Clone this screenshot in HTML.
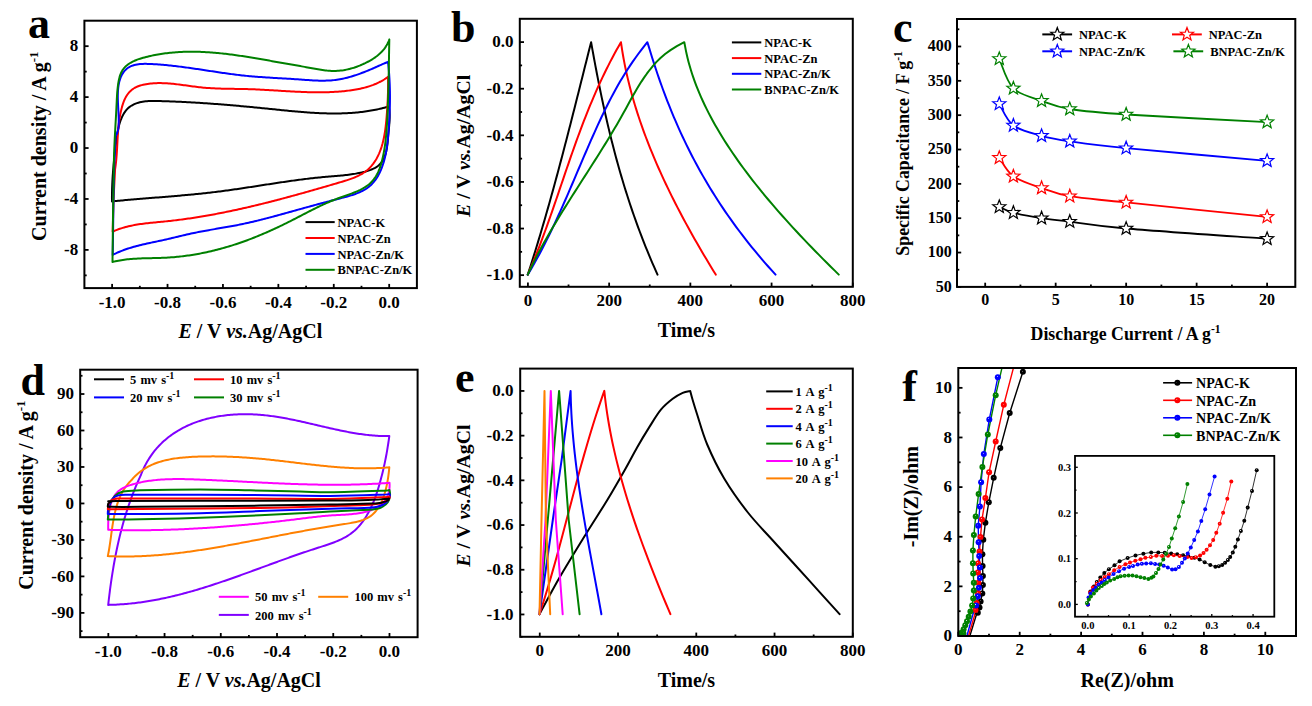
<!DOCTYPE html>
<html><head><meta charset="utf-8"><style>
html,body{margin:0;padding:0;background:#fff;width:1312px;height:706px;overflow:hidden}
svg{display:block}
text{font-family:'Liberation Serif',serif;font-weight:bold}
</style></head><body>
<svg width="1312" height="706" viewBox="0 0 1312 706">
<rect width="1312" height="706" fill="#fff"/>
<line x1="112.11" y1="288.1" x2="112.11" y2="283.9" stroke="#000" stroke-width="1.8"/>
<line x1="167.53" y1="288.1" x2="167.53" y2="283.9" stroke="#000" stroke-width="1.8"/>
<line x1="222.94" y1="288.1" x2="222.94" y2="283.9" stroke="#000" stroke-width="1.8"/>
<line x1="278.36" y1="288.1" x2="278.36" y2="283.9" stroke="#000" stroke-width="1.8"/>
<line x1="333.77" y1="288.1" x2="333.77" y2="283.9" stroke="#000" stroke-width="1.8"/>
<line x1="389.19" y1="288.1" x2="389.19" y2="283.9" stroke="#000" stroke-width="1.8"/>
<line x1="139.82" y1="288.1" x2="139.82" y2="285.8" stroke="#000" stroke-width="1.8"/>
<line x1="195.23" y1="288.1" x2="195.23" y2="285.8" stroke="#000" stroke-width="1.8"/>
<line x1="250.65" y1="288.1" x2="250.65" y2="285.8" stroke="#000" stroke-width="1.8"/>
<line x1="306.07" y1="288.1" x2="306.07" y2="285.8" stroke="#000" stroke-width="1.8"/>
<line x1="361.48" y1="288.1" x2="361.48" y2="285.8" stroke="#000" stroke-width="1.8"/>
<text x="112.11" y="307.6" font-size="17" text-anchor="middle" >-1.0</text>
<text x="167.53" y="307.6" font-size="17" text-anchor="middle" >-0.8</text>
<text x="222.94" y="307.6" font-size="17" text-anchor="middle" >-0.6</text>
<text x="278.36" y="307.6" font-size="17" text-anchor="middle" >-0.4</text>
<text x="333.77" y="307.6" font-size="17" text-anchor="middle" >-0.2</text>
<text x="389.19" y="307.6" font-size="17" text-anchor="middle" >0.0</text>
<line x1="84.4" y1="46.17" x2="88.6" y2="46.17" stroke="#000" stroke-width="1.8"/>
<line x1="84.4" y1="97.1" x2="88.6" y2="97.1" stroke="#000" stroke-width="1.8"/>
<line x1="84.4" y1="148.03" x2="88.6" y2="148.03" stroke="#000" stroke-width="1.8"/>
<line x1="84.4" y1="198.97" x2="88.6" y2="198.97" stroke="#000" stroke-width="1.8"/>
<line x1="84.4" y1="249.9" x2="88.6" y2="249.9" stroke="#000" stroke-width="1.8"/>
<line x1="84.4" y1="71.63" x2="86.7" y2="71.63" stroke="#000" stroke-width="1.8"/>
<line x1="84.4" y1="122.57" x2="86.7" y2="122.57" stroke="#000" stroke-width="1.8"/>
<line x1="84.4" y1="173.5" x2="86.7" y2="173.5" stroke="#000" stroke-width="1.8"/>
<line x1="84.4" y1="224.43" x2="86.7" y2="224.43" stroke="#000" stroke-width="1.8"/>
<line x1="84.4" y1="275.37" x2="86.7" y2="275.37" stroke="#000" stroke-width="1.8"/>
<text x="78.2" y="51.47" font-size="17" text-anchor="end" >8</text>
<text x="78.2" y="102.4" font-size="17" text-anchor="end" >4</text>
<text x="78.2" y="153.33" font-size="17" text-anchor="end" >0</text>
<text x="78.2" y="204.27" font-size="17" text-anchor="end" >-4</text>
<text x="78.2" y="255.2" font-size="17" text-anchor="end" >-8</text>
<path d="M117,135.9 L117.2,134.52 L117.43,133.09 L117.69,131.63 L117.97,130.14 L118.29,128.63 L118.63,127.11 L119.02,125.58 L119.44,124.05 L119.9,122.52 L120.41,121.01 L120.96,119.52 L121.55,118.05 L122.2,116.62 L122.89,115.22 L123.64,113.88 L124.44,112.58 L125.3,111.35 L126.22,110.18 L127.21,109.08 L128.25,108.07 L129.36,107.14 L130.53,106.28 L131.74,105.51 L133,104.81 L134.3,104.18 L135.62,103.62 L136.98,103.13 L138.36,102.7 L139.76,102.33 L141.19,102.01 L142.64,101.75 L144.1,101.53 L145.59,101.35 L147.08,101.22 L148.59,101.12 L150.12,101.05 L151.65,101.01 L153.19,100.99 L154.73,100.99 L156.29,101.01 L157.84,101.04 L159.39,101.07 L160.94,101.12 L162.49,101.16 L164.04,101.21 L165.59,101.25 L167.13,101.3 L168.68,101.36 L170.22,101.41 L171.76,101.47 L173.3,101.53 L174.83,101.59 L176.37,101.65 L177.9,101.72 L179.43,101.79 L180.96,101.86 L182.49,101.93 L184.02,102.01 L185.54,102.08 L187.07,102.16 L188.59,102.24 L190.12,102.33 L191.64,102.41 L193.16,102.5 L194.67,102.58 L196.19,102.67 L197.71,102.77 L199.22,102.86 L200.74,102.96 L202.25,103.05 L203.76,103.15 L205.28,103.25 L206.79,103.36 L208.3,103.46 L209.8,103.57 L211.31,103.67 L212.82,103.78 L214.33,103.89 L215.83,104.01 L217.34,104.12 L218.84,104.24 L220.35,104.35 L221.85,104.47 L223.35,104.59 L224.86,104.71 L226.36,104.84 L227.86,104.96 L229.36,105.08 L230.86,105.21 L232.37,105.34 L233.87,105.47 L235.37,105.6 L236.87,105.73 L238.37,105.86 L239.87,106 L241.37,106.13 L242.87,106.27 L244.37,106.41 L245.87,106.55 L247.37,106.69 L248.87,106.83 L250.37,106.97 L251.87,107.11 L253.37,107.26 L254.87,107.4 L256.38,107.55 L257.88,107.69 L259.38,107.84 L260.88,107.99 L262.39,108.14 L263.89,108.29 L265.39,108.44 L266.9,108.59 L268.4,108.74 L269.91,108.9 L271.42,109.05 L272.92,109.2 L274.43,109.36 L275.94,109.51 L277.45,109.67 L278.96,109.82 L280.47,109.98 L281.98,110.13 L283.49,110.28 L285,110.43 L286.51,110.58 L288.03,110.73 L289.54,110.88 L291.05,111.02 L292.56,111.17 L294.08,111.31 L295.59,111.44 L297.11,111.58 L298.62,111.71 L300.13,111.84 L301.65,111.97 L303.16,112.09 L304.68,112.21 L306.19,112.32 L307.71,112.43 L309.22,112.54 L310.74,112.64 L312.25,112.74 L313.77,112.83 L315.28,112.91 L316.8,113 L318.31,113.07 L319.83,113.14 L321.34,113.2 L322.86,113.26 L324.37,113.31 L325.89,113.36 L327.4,113.39 L328.91,113.42 L330.42,113.45 L331.94,113.46 L333.45,113.47 L334.96,113.47 L336.47,113.46 L337.98,113.45 L339.49,113.42 L341,113.39 L342.51,113.35 L344.02,113.29 L345.53,113.23 L347.04,113.16 L348.54,113.08 L350.05,112.99 L351.56,112.89 L353.06,112.78 L354.57,112.66 L356.07,112.53 L357.57,112.39 L359.07,112.23 L360.57,112.07 L362.07,111.89 L363.57,111.7 L365.07,111.5 L366.57,111.29 L368.07,111.06 L369.56,110.83 L371.06,110.58 L372.55,110.31 L374.04,110.03 L375.53,109.74 L377.02,109.44 L378.51,109.12 L380,108.79 L381.49,108.44 L382.97,108.08 L384.46,107.71 L385.94,107.32 L387.42,106.91 L388.9,106.49 M388.9,106.5 L389.13,108.05 L389.32,109.57 L389.46,111.08 L389.56,112.57 L389.62,114.04 L389.65,115.51 L389.65,116.96 L389.62,118.41 L389.57,119.85 L389.49,121.3 L389.4,122.74 L389.28,124.19 L389.16,125.64 L389.03,127.1 L388.88,128.57 L388.74,130.06 L388.59,131.56 L388.44,133.08 L388.3,134.61 L388.17,136.17 L388.03,137.75 L387.89,139.34 L387.75,140.94 L387.59,142.54 L387.41,144.14 L387.21,145.73 L386.98,147.32 L386.72,148.88 L386.42,150.43 L386.08,151.96 L385.69,153.45 L385.25,154.91 L384.75,156.33 L384.19,157.71 L383.56,159.04 L382.86,160.32 L382.09,161.54 L381.24,162.69 L380.32,163.77 L379.32,164.77 L378.25,165.69 L377.12,166.54 L375.92,167.32 L374.67,168.04 L373.37,168.7 L372.03,169.3 L370.66,169.86 L369.25,170.37 L367.82,170.84 L366.37,171.27 L364.9,171.68 L363.43,172.05 L361.96,172.4 L360.48,172.74 L359,173.05 L357.51,173.34 L356.03,173.61 L354.54,173.87 L353.05,174.1 L351.55,174.33 L350.06,174.54 L348.56,174.73 L347.06,174.92 L345.56,175.09 L344.06,175.25 L342.56,175.41 L341.06,175.55 L339.55,175.69 L338.05,175.83 L336.54,175.96 L335.04,176.09 L333.53,176.21 L332.02,176.33 L330.52,176.46 L329.01,176.58 L327.51,176.71 L326,176.84 L324.5,176.97 L322.99,177.11 L321.49,177.25 L319.99,177.39 L318.49,177.55 L316.99,177.7 L315.49,177.86 L313.99,178.02 L312.49,178.19 L310.99,178.36 L309.49,178.53 L307.99,178.7 L306.5,178.88 L305,179.07 L303.51,179.25 L302.01,179.44 L300.52,179.63 L299.02,179.83 L297.53,180.03 L296.03,180.23 L294.54,180.43 L293.05,180.63 L291.56,180.84 L290.06,181.05 L288.57,181.26 L287.08,181.47 L285.59,181.69 L284.1,181.91 L282.61,182.12 L281.12,182.34 L279.63,182.57 L278.14,182.79 L276.65,183.01 L275.16,183.24 L273.67,183.46 L272.19,183.69 L270.7,183.92 L269.21,184.15 L267.72,184.37 L266.23,184.6 L264.74,184.83 L263.25,185.06 L261.77,185.29 L260.28,185.52 L258.79,185.75 L257.3,185.99 L255.81,186.22 L254.33,186.44 L252.84,186.67 L251.35,186.9 L249.86,187.13 L248.37,187.36 L246.88,187.58 L245.4,187.81 L243.91,188.03 L242.42,188.26 L240.93,188.48 L239.44,188.7 L237.95,188.92 L236.46,189.14 L234.97,189.35 L233.48,189.56 L231.99,189.78 L230.5,189.99 L229.01,190.19 L227.51,190.4 L226.02,190.6 L224.53,190.8 L223.04,191 L221.54,191.2 L220.05,191.39 L218.56,191.58 L217.06,191.77 L215.57,191.95 L214.07,192.13 L212.57,192.31 L211.08,192.49 L209.58,192.66 L208.08,192.83 L206.59,192.99 L205.09,193.16 L203.59,193.32 L202.09,193.48 L200.59,193.64 L199.09,193.79 L197.59,193.94 L196.09,194.1 L194.59,194.24 L193.09,194.39 L191.59,194.53 L190.09,194.68 L188.59,194.82 L187.09,194.96 L185.59,195.09 L184.08,195.23 L182.58,195.36 L181.08,195.5 L179.58,195.63 L178.07,195.76 L176.57,195.89 L175.07,196.02 L173.57,196.14 L172.06,196.27 L170.56,196.4 L169.06,196.52 L167.55,196.65 L166.05,196.77 L164.55,196.89 L163.04,197.01 L161.54,197.13 L160.03,197.26 L158.53,197.38 L157.03,197.5 L155.52,197.62 L154.02,197.74 L152.52,197.86 L151.01,197.98 L149.51,198.1 L148.01,198.22 L146.5,198.35 L145,198.47 L143.5,198.59 L142,198.71 L140.49,198.84 L138.99,198.96 L137.49,199.09 L135.99,199.21 L134.49,199.34 L132.99,199.47 L131.49,199.6 L129.98,199.73 L128.48,199.86 L126.98,199.99 L125.48,200.12 L123.98,200.26 L122.48,200.4 L120.99,200.53 L119.49,200.67 L117.99,200.82 L116.49,200.96 L114.99,201.11 L113.5,201.25 L112,201.4 M112,201.4 L111.98,199.83 L111.97,198.27 L111.97,196.7 L111.98,195.14 L112,193.57 L112.02,192.01 L112.05,190.44 L112.1,188.88 L112.14,187.31 L112.2,185.75 L112.26,184.18 L112.34,182.62 L112.41,181.06 L112.5,179.49 L112.59,177.93 L112.69,176.37 L112.79,174.81 L112.91,173.25 L113.02,171.69 L113.15,170.13 L113.27,168.56 L113.41,167 L113.55,165.45 L113.69,163.89 L113.84,162.33 L114,160.77 L114.16,159.21 L114.32,157.65 L114.49,156.1 L114.66,154.54 L114.84,152.98 L115.02,151.43 L115.2,149.87 L115.39,148.32 L115.58,146.76 L115.78,145.21 L115.97,143.66 L116.17,142.11 L116.38,140.55 L116.58,139 L116.79,137.45 L117,135.9" fill="none" stroke="#000000" stroke-width="2.0" stroke-linejoin="round" stroke-linecap="round" />
<path d="M115.1,169 L115.33,167.5 L115.54,166 L115.74,164.5 L115.92,163 L116.09,161.49 L116.24,159.99 L116.38,158.49 L116.51,156.99 L116.62,155.49 L116.73,153.99 L116.83,152.49 L116.93,150.99 L117.02,149.49 L117.1,147.99 L117.18,146.49 L117.26,144.99 L117.34,143.49 L117.42,141.98 L117.5,140.48 L117.58,138.97 L117.67,137.47 L117.76,135.96 L117.85,134.46 L117.96,132.95 L118.07,131.44 L118.19,129.93 L118.33,128.42 L118.47,126.91 L118.63,125.4 L118.8,123.88 L118.98,122.37 L119.19,120.85 L119.41,119.33 L119.65,117.81 L119.91,116.29 L120.19,114.76 L120.49,113.24 L120.81,111.71 L121.16,110.18 L121.54,108.65 L121.94,107.13 L122.38,105.61 L122.85,104.1 L123.36,102.62 L123.91,101.16 L124.51,99.74 L125.16,98.35 L125.87,97.01 L126.63,95.72 L127.45,94.49 L128.34,93.32 L129.29,92.22 L130.29,91.18 L131.36,90.21 L132.48,89.32 L133.66,88.5 L134.89,87.76 L136.17,87.09 L137.5,86.5 L138.86,85.98 L140.27,85.52 L141.69,85.12 L143.14,84.76 L144.6,84.45 L146.08,84.18 L147.55,83.94 L149.03,83.74 L150.51,83.56 L152,83.42 L153.49,83.3 L154.98,83.21 L156.48,83.15 L157.98,83.12 L159.48,83.1 L160.98,83.11 L162.49,83.15 L164,83.2 L165.51,83.27 L167.03,83.36 L168.54,83.46 L170.06,83.58 L171.58,83.72 L173.1,83.86 L174.62,84.02 L176.14,84.19 L177.66,84.37 L179.19,84.56 L180.71,84.75 L182.24,84.95 L183.76,85.15 L185.29,85.36 L186.82,85.57 L188.34,85.78 L189.87,85.99 L191.39,86.19 L192.92,86.4 L194.44,86.6 L195.97,86.79 L197.49,86.98 L199.01,87.16 L200.53,87.33 L202.05,87.49 L203.56,87.63 L205.08,87.77 L206.59,87.9 L208.11,88.01 L209.62,88.11 L211.13,88.21 L212.63,88.29 L214.14,88.37 L215.65,88.44 L217.15,88.5 L218.66,88.56 L220.16,88.61 L221.66,88.65 L223.17,88.69 L224.67,88.72 L226.17,88.75 L227.67,88.78 L229.17,88.8 L230.67,88.82 L232.17,88.84 L233.67,88.86 L235.17,88.88 L236.67,88.9 L238.17,88.92 L239.67,88.94 L241.17,88.97 L242.67,88.99 L244.17,89.02 L245.68,89.06 L247.18,89.09 L248.68,89.14 L250.19,89.18 L251.69,89.24 L253.2,89.29 L254.71,89.35 L256.22,89.42 L257.72,89.49 L259.23,89.56 L260.74,89.63 L262.25,89.71 L263.76,89.79 L265.28,89.88 L266.79,89.96 L268.3,90.05 L269.81,90.14 L271.33,90.23 L272.84,90.32 L274.35,90.41 L275.87,90.51 L277.38,90.6 L278.9,90.7 L280.41,90.79 L281.93,90.88 L283.44,90.97 L284.96,91.07 L286.47,91.16 L287.99,91.25 L289.51,91.33 L291.02,91.42 L292.54,91.5 L294.05,91.58 L295.57,91.66 L297.09,91.73 L298.6,91.81 L300.12,91.87 L301.63,91.94 L303.15,92 L304.67,92.05 L306.18,92.11 L307.7,92.15 L309.21,92.19 L310.73,92.23 L312.24,92.26 L313.75,92.28 L315.27,92.3 L316.78,92.31 L318.29,92.32 L319.8,92.32 L321.32,92.31 L322.83,92.29 L324.34,92.27 L325.85,92.24 L327.36,92.2 L328.87,92.15 L330.37,92.09 L331.88,92.03 L333.39,91.95 L334.89,91.87 L336.4,91.77 L337.9,91.67 L339.41,91.55 L340.91,91.43 L342.41,91.29 L343.91,91.14 L345.41,90.98 L346.91,90.81 L348.41,90.63 L349.91,90.44 L351.4,90.23 L352.89,90.01 L354.39,89.77 L355.87,89.52 L357.36,89.25 L358.84,88.96 L360.31,88.65 L361.78,88.33 L363.25,87.98 L364.71,87.61 L366.16,87.21 L367.6,86.8 L369.04,86.35 L370.46,85.88 L371.88,85.38 L373.29,84.86 L374.69,84.3 L376.08,83.72 L377.45,83.1 L378.82,82.45 L380.17,81.76 L381.51,81.05 L382.84,80.29 L384.15,79.5 L385.45,78.67 L386.73,77.8 L388,76.9 M388,76.9 L388.03,78.42 L388.06,79.94 L388.07,81.45 L388.08,82.96 L388.08,84.46 L388.08,85.96 L388.07,87.45 L388.05,88.94 L388.02,90.43 L387.99,91.91 L387.96,93.4 L387.91,94.88 L387.86,96.36 L387.81,97.84 L387.74,99.32 L387.68,100.8 L387.6,102.29 L387.52,103.77 L387.44,105.26 L387.35,106.75 L387.25,108.24 L387.15,109.74 L387.05,111.24 L386.94,112.75 L386.82,114.26 L386.7,115.78 L386.58,117.3 L386.45,118.83 L386.31,120.37 L386.16,121.9 L386.01,123.44 L385.84,124.98 L385.66,126.53 L385.47,128.07 L385.27,129.61 L385.05,131.15 L384.82,132.68 L384.56,134.21 L384.29,135.74 L384,137.26 L383.69,138.77 L383.36,140.28 L383,141.77 L382.62,143.26 L382.21,144.73 L381.78,146.2 L381.32,147.65 L380.83,149.08 L380.31,150.5 L379.76,151.91 L379.18,153.3 L378.56,154.67 L377.91,156.02 L377.23,157.34 L376.52,158.65 L375.77,159.92 L374.99,161.17 L374.17,162.39 L373.32,163.57 L372.43,164.72 L371.51,165.84 L370.55,166.92 L369.56,167.96 L368.53,168.95 L367.46,169.9 L366.35,170.81 L365.21,171.68 L364.04,172.5 L362.83,173.28 L361.6,174.03 L360.33,174.74 L359.04,175.42 L357.72,176.06 L356.38,176.68 L355.02,177.27 L353.64,177.83 L352.24,178.38 L350.83,178.9 L349.4,179.4 L347.96,179.89 L346.51,180.36 L345.06,180.82 L343.59,181.27 L342.12,181.71 L340.65,182.15 L339.17,182.58 L337.7,183.01 L336.22,183.45 L334.75,183.88 L333.28,184.3 L331.81,184.73 L330.34,185.16 L328.87,185.59 L327.41,186.01 L325.94,186.44 L324.48,186.86 L323.01,187.28 L321.55,187.71 L320.09,188.13 L318.63,188.55 L317.17,188.97 L315.71,189.39 L314.25,189.8 L312.79,190.22 L311.33,190.63 L309.88,191.05 L308.42,191.46 L306.96,191.87 L305.51,192.28 L304.05,192.69 L302.6,193.1 L301.15,193.5 L299.69,193.91 L298.24,194.31 L296.79,194.71 L295.34,195.11 L293.88,195.51 L292.43,195.91 L290.98,196.3 L289.53,196.7 L288.08,197.09 L286.63,197.48 L285.17,197.87 L283.72,198.26 L282.27,198.65 L280.82,199.03 L279.37,199.41 L277.92,199.8 L276.47,200.17 L275.01,200.55 L273.56,200.93 L272.11,201.3 L270.66,201.67 L269.2,202.04 L267.75,202.41 L266.3,202.78 L264.84,203.14 L263.39,203.51 L261.93,203.87 L260.48,204.22 L259.02,204.58 L257.57,204.93 L256.11,205.29 L254.65,205.64 L253.19,205.98 L251.73,206.33 L250.27,206.67 L248.81,207.01 L247.35,207.35 L245.89,207.69 L244.43,208.02 L242.96,208.35 L241.5,208.68 L240.03,209.01 L238.56,209.33 L237.1,209.65 L235.63,209.97 L234.16,210.29 L232.69,210.6 L231.21,210.92 L229.74,211.22 L228.27,211.53 L226.79,211.83 L225.32,212.13 L223.84,212.43 L222.36,212.73 L220.88,213.02 L219.41,213.31 L217.93,213.59 L216.45,213.87 L214.96,214.15 L213.48,214.43 L212,214.7 L210.51,214.97 L209.03,215.24 L207.54,215.5 L206.06,215.76 L204.57,216.02 L203.08,216.27 L201.6,216.52 L200.11,216.77 L198.62,217.01 L197.13,217.25 L195.64,217.49 L194.15,217.72 L192.65,217.95 L191.16,218.17 L189.67,218.39 L188.17,218.61 L186.68,218.82 L185.19,219.03 L183.69,219.23 L182.19,219.43 L180.7,219.63 L179.2,219.82 L177.7,220.01 L176.21,220.2 L174.71,220.38 L173.21,220.55 L171.71,220.73 L170.21,220.89 L168.71,221.06 L167.21,221.21 L165.71,221.37 L164.21,221.52 L162.71,221.67 L161.21,221.81 L159.71,221.95 L158.21,222.09 L156.71,222.23 L155.21,222.38 L153.71,222.52 L152.21,222.67 L150.71,222.83 L149.22,222.98 L147.72,223.15 L146.23,223.32 L144.74,223.5 L143.25,223.69 L141.76,223.89 L140.28,224.1 L138.8,224.33 L137.32,224.57 L135.84,224.82 L134.36,225.08 L132.89,225.37 L131.42,225.67 L129.96,225.99 L128.5,226.32 L127.04,226.68 L125.59,227.06 L124.14,227.46 L122.69,227.89 L121.25,228.34 L119.81,228.81 L118.38,229.31 L116.95,229.84 L115.53,230.4 L114.11,230.98 L112.7,231.6 M112.7,231.6 L113.5,200 L115.1,169" fill="none" stroke="#ff0000" stroke-width="2.0" stroke-linejoin="round" stroke-linecap="round" />
<path d="M115.7,135.9 L116.26,135 L116.75,134.03 L117.18,133 L117.55,131.89 L117.86,130.73 L118.12,129.5 L118.33,128.22 L118.49,126.88 L118.61,125.5 L118.69,124.07 L118.74,122.59 L118.75,121.08 L118.74,119.52 L118.71,117.94 L118.65,116.32 L118.58,114.67 L118.5,113 L118.41,111.31 L118.31,109.6 L118.21,107.88 L118.12,106.14 L118.03,104.4 L117.95,102.65 L117.89,100.89 L117.84,99.14 L117.81,97.39 L117.81,95.65 L117.84,93.92 L117.9,92.21 L117.99,90.51 L118.13,88.83 L118.31,87.17 L118.53,85.54 L118.81,83.94 L119.14,82.37 L119.53,80.84 L119.98,79.35 L120.5,77.89 L121.08,76.49 L121.74,75.14 L122.46,73.84 L123.25,72.62 L124.1,71.47 L125.02,70.4 L126,69.43 L127.04,68.54 L128.13,67.76 L129.28,67.06 L130.48,66.44 L131.72,65.91 L133.01,65.44 L134.34,65.05 L135.71,64.72 L137.11,64.46 L138.54,64.25 L139.99,64.09 L141.48,63.97 L142.98,63.9 L144.5,63.86 L146.03,63.86 L147.57,63.88 L149.12,63.93 L150.68,64 L152.23,64.07 L153.78,64.16 L155.33,64.26 L156.88,64.36 L158.42,64.47 L159.96,64.59 L161.5,64.71 L163.03,64.84 L164.56,64.97 L166.09,65.12 L167.61,65.26 L169.14,65.42 L170.65,65.58 L172.17,65.74 L173.69,65.91 L175.2,66.08 L176.71,66.26 L178.22,66.44 L179.72,66.63 L181.23,66.82 L182.73,67.01 L184.23,67.21 L185.72,67.41 L187.22,67.62 L188.72,67.82 L190.21,68.03 L191.7,68.25 L193.19,68.46 L194.68,68.68 L196.17,68.9 L197.65,69.11 L199.14,69.34 L200.62,69.56 L202.11,69.78 L203.59,70.01 L205.07,70.23 L206.55,70.45 L208.03,70.68 L209.51,70.9 L210.99,71.13 L212.47,71.35 L213.95,71.58 L215.43,71.8 L216.91,72.02 L218.38,72.24 L219.86,72.46 L221.34,72.67 L222.82,72.89 L224.3,73.1 L225.78,73.31 L227.26,73.52 L228.74,73.72 L230.22,73.92 L231.7,74.12 L233.18,74.31 L234.67,74.5 L236.15,74.69 L237.64,74.87 L239.12,75.05 L240.61,75.23 L242.1,75.39 L243.59,75.56 L245.08,75.72 L246.57,75.87 L248.07,76.02 L249.56,76.16 L251.06,76.3 L252.56,76.43 L254.06,76.56 L255.56,76.68 L257.07,76.79 L258.57,76.91 L260.08,77.02 L261.58,77.12 L263.09,77.23 L264.6,77.33 L266.11,77.42 L267.62,77.52 L269.13,77.61 L270.64,77.7 L272.15,77.79 L273.67,77.88 L275.18,77.97 L276.69,78.05 L278.21,78.14 L279.72,78.22 L281.24,78.31 L282.75,78.4 L284.27,78.48 L285.78,78.57 L287.3,78.66 L288.81,78.75 L290.33,78.84 L291.84,78.94 L293.36,79.04 L294.87,79.13 L296.38,79.24 L297.9,79.34 L299.41,79.45 L300.92,79.56 L302.43,79.67 L303.95,79.79 L305.46,79.9 L306.97,80 L308.47,80.11 L309.98,80.21 L311.49,80.3 L312.99,80.38 L314.5,80.46 L316,80.53 L317.5,80.58 L319,80.63 L320.5,80.66 L322,80.67 L323.5,80.67 L324.99,80.65 L326.48,80.62 L327.98,80.56 L329.47,80.49 L330.95,80.39 L332.44,80.27 L333.92,80.12 L335.41,79.95 L336.89,79.75 L338.37,79.53 L339.84,79.28 L341.31,79.01 L342.79,78.71 L344.25,78.39 L345.72,78.04 L347.18,77.68 L348.64,77.29 L350.1,76.89 L351.55,76.47 L353,76.02 L354.45,75.57 L355.89,75.09 L357.33,74.6 L358.77,74.1 L360.2,73.58 L361.62,73.05 L363.05,72.51 L364.47,71.96 L365.88,71.39 L367.29,70.82 L368.69,70.24 L370.09,69.66 L371.49,69.06 L372.88,68.46 L374.26,67.86 L375.64,67.25 L377.01,66.64 L378.38,66.03 L379.75,65.42 L381.12,64.82 L382.49,64.21 L383.86,63.62 L385.24,63.04 L386.62,62.46 L388,61.9 M388,61.9 L388.17,63.44 L388.33,64.97 L388.49,66.5 L388.64,68.03 L388.77,69.55 L388.9,71.07 L389.03,72.59 L389.14,74.1 L389.24,75.61 L389.34,77.11 L389.43,78.62 L389.52,80.12 L389.59,81.62 L389.66,83.11 L389.72,84.61 L389.77,86.1 L389.82,87.59 L389.86,89.08 L389.89,90.57 L389.92,92.05 L389.93,93.54 L389.95,95.03 L389.95,96.51 L389.95,97.99 L389.95,99.48 L389.93,100.96 L389.92,102.45 L389.89,103.93 L389.86,105.42 L389.83,106.9 L389.78,108.39 L389.74,109.88 L389.69,111.37 L389.63,112.86 L389.57,114.35 L389.5,115.84 L389.43,117.34 L389.35,118.83 L389.27,120.33 L389.18,121.84 L389.09,123.34 L389,124.85 L388.9,126.36 L388.79,127.87 L388.68,129.39 L388.57,130.91 L388.46,132.43 L388.33,133.96 L388.2,135.49 L388.07,137.02 L387.92,138.55 L387.76,140.08 L387.6,141.6 L387.42,143.13 L387.23,144.66 L387.02,146.18 L386.8,147.7 L386.56,149.22 L386.31,150.73 L386.03,152.24 L385.74,153.74 L385.43,155.24 L385.1,156.73 L384.74,158.21 L384.36,159.68 L383.96,161.15 L383.54,162.61 L383.08,164.05 L382.6,165.49 L382.09,166.92 L381.55,168.33 L380.99,169.73 L380.39,171.11 L379.76,172.48 L379.09,173.82 L378.4,175.13 L377.66,176.42 L376.9,177.68 L376.09,178.9 L375.25,180.09 L374.37,181.24 L373.46,182.36 L372.5,183.42 L371.5,184.45 L370.46,185.42 L369.38,186.35 L368.26,187.23 L367.1,188.07 L365.91,188.86 L364.68,189.62 L363.42,190.33 L362.13,191.01 L360.82,191.65 L359.48,192.27 L358.11,192.85 L356.72,193.41 L355.32,193.94 L353.89,194.44 L352.45,194.93 L350.99,195.39 L349.52,195.84 L348.05,196.27 L346.56,196.69 L345.07,197.1 L343.57,197.5 L342.07,197.89 L340.57,198.28 L339.08,198.66 L337.58,199.05 L336.09,199.43 L334.61,199.82 L333.12,200.21 L331.65,200.59 L330.17,200.98 L328.7,201.37 L327.23,201.75 L325.77,202.14 L324.3,202.53 L322.84,202.92 L321.39,203.31 L319.93,203.7 L318.48,204.09 L317.03,204.48 L315.58,204.88 L314.13,205.27 L312.68,205.66 L311.24,206.06 L309.79,206.45 L308.35,206.85 L306.9,207.25 L305.46,207.64 L304.02,208.04 L302.57,208.44 L301.13,208.84 L299.69,209.24 L298.24,209.65 L296.8,210.05 L295.35,210.45 L293.91,210.86 L292.46,211.26 L291.02,211.67 L289.57,212.07 L288.12,212.47 L286.67,212.88 L285.22,213.28 L283.78,213.68 L282.33,214.08 L280.87,214.48 L279.42,214.88 L277.97,215.28 L276.52,215.68 L275.06,216.07 L273.61,216.46 L272.15,216.85 L270.7,217.24 L269.24,217.63 L267.78,218.01 L266.32,218.39 L264.86,218.77 L263.4,219.14 L261.94,219.51 L260.48,219.88 L259.02,220.24 L257.55,220.6 L256.09,220.96 L254.62,221.31 L253.16,221.66 L251.69,222 L250.22,222.34 L248.75,222.67 L247.28,223 L245.81,223.33 L244.33,223.64 L242.86,223.96 L241.38,224.26 L239.91,224.57 L238.43,224.86 L236.95,225.15 L235.47,225.44 L233.99,225.72 L232.51,225.99 L231.02,226.27 L229.54,226.54 L228.06,226.8 L226.57,227.06 L225.09,227.32 L223.6,227.58 L222.12,227.84 L220.63,228.1 L219.15,228.35 L217.66,228.61 L216.18,228.86 L214.69,229.12 L213.21,229.37 L211.72,229.63 L210.24,229.89 L208.75,230.15 L207.27,230.42 L205.79,230.68 L204.3,230.95 L202.82,231.23 L201.34,231.5 L199.86,231.79 L198.38,232.07 L196.91,232.36 L195.43,232.66 L193.96,232.97 L192.48,233.28 L191.01,233.59 L189.54,233.92 L188.07,234.25 L186.6,234.58 L185.14,234.92 L183.67,235.27 L182.2,235.62 L180.74,235.97 L179.27,236.32 L177.81,236.67 L176.34,237.03 L174.88,237.38 L173.41,237.74 L171.95,238.09 L170.48,238.44 L169.01,238.78 L167.55,239.12 L166.08,239.46 L164.61,239.79 L163.13,240.12 L161.66,240.44 L160.19,240.75 L158.71,241.07 L157.23,241.38 L155.76,241.69 L154.28,242 L152.81,242.31 L151.34,242.63 L149.86,242.94 L148.39,243.26 L146.92,243.59 L145.45,243.91 L143.98,244.25 L142.52,244.59 L141.06,244.94 L139.6,245.3 L138.14,245.66 L136.69,246.04 L135.24,246.43 L133.79,246.83 L132.35,247.24 L130.91,247.67 L129.47,248.11 L128.04,248.57 L126.62,249.05 L125.2,249.54 L123.79,250.05 L122.38,250.58 L120.98,251.13 L119.58,251.7 L118.19,252.29 L116.81,252.91 L115.43,253.55 L114.06,254.21 L112.7,254.9 M112.7,254.9 L112.73,253.37 L112.76,251.85 L112.79,250.32 L112.82,248.8 L112.84,247.27 L112.87,245.75 L112.9,244.22 L112.92,242.69 L112.94,241.17 L112.97,239.64 L112.99,238.12 L113.01,236.59 L113.03,235.06 L113.05,233.54 L113.08,232.01 L113.1,230.49 L113.12,228.96 L113.14,227.43 L113.15,225.91 L113.17,224.38 L113.19,222.86 L113.21,221.33 L113.23,219.8 L113.25,218.28 L113.27,216.75 L113.29,215.22 L113.31,213.7 L113.33,212.17 L113.35,210.64 L113.37,209.12 L113.39,207.59 L113.41,206.07 L113.43,204.54 L113.45,203.01 L113.48,201.49 L113.5,199.96 L113.52,198.43 L113.55,196.91 L113.57,195.38 L113.6,193.86 L113.63,192.33 L113.66,190.8 L113.69,189.28 L113.72,187.75 L113.75,186.23 L113.78,184.7 L113.81,183.17 L113.85,181.65 L113.88,180.12 L113.92,178.6 L113.96,177.07 L114,175.54 L114.04,174.02 L114.08,172.49 L114.13,170.97 L114.17,169.44 L114.22,167.92 L114.27,166.39 L114.32,164.87 L114.38,163.34 L114.43,161.82 L114.49,160.29 L114.55,158.77 L114.61,157.24 L114.67,155.72 L114.74,154.19 L114.8,152.67 L114.87,151.14 L114.95,149.62 L115.02,148.09 L115.1,146.57 L115.17,145.04 L115.26,143.52 L115.34,142 L115.43,140.47 L115.51,138.95 L115.61,137.42 L115.7,135.9" fill="none" stroke="#0000ff" stroke-width="2.0" stroke-linejoin="round" stroke-linecap="round" />
<path d="M113.8,170.1 L113.81,168.53 L113.82,166.97 L113.83,165.41 L113.86,163.86 L113.88,162.32 L113.91,160.78 L113.94,159.25 L113.98,157.72 L114.02,156.2 L114.07,154.68 L114.12,153.17 L114.17,151.66 L114.23,150.16 L114.28,148.65 L114.35,147.15 L114.41,145.66 L114.48,144.17 L114.54,142.68 L114.61,141.19 L114.69,139.7 L114.76,138.22 L114.84,136.74 L114.92,135.26 L115,133.78 L115.08,132.3 L115.16,130.82 L115.24,129.34 L115.32,127.86 L115.4,126.38 L115.49,124.9 L115.57,123.42 L115.65,121.94 L115.74,120.46 L115.82,118.98 L115.9,117.49 L115.99,116 L116.07,114.51 L116.15,113.02 L116.22,111.52 L116.3,110.03 L116.38,108.52 L116.45,107.02 L116.52,105.51 L116.6,104 L116.66,102.48 L116.74,100.96 L116.81,99.43 L116.89,97.89 L116.98,96.35 L117.07,94.8 L117.18,93.25 L117.3,91.68 L117.44,90.11 L117.6,88.53 L117.78,86.94 L117.98,85.34 L118.21,83.73 L118.46,82.12 L118.76,80.52 L119.1,78.95 L119.49,77.4 L119.93,75.89 L120.44,74.43 L121.01,73.03 L121.66,71.69 L122.38,70.43 L123.18,69.25 L124.05,68.13 L124.99,67.09 L126,66.11 L127.06,65.19 L128.18,64.33 L129.36,63.52 L130.58,62.77 L131.84,62.06 L133.14,61.41 L134.48,60.79 L135.86,60.22 L137.26,59.68 L138.68,59.17 L140.13,58.7 L141.59,58.25 L143.06,57.82 L144.54,57.42 L146.02,57.03 L147.51,56.66 L149,56.31 L150.48,55.97 L151.97,55.64 L153.46,55.33 L154.95,55.03 L156.44,54.75 L157.94,54.48 L159.43,54.22 L160.92,53.98 L162.42,53.75 L163.92,53.54 L165.41,53.33 L166.91,53.14 L168.41,52.97 L169.91,52.8 L171.41,52.65 L172.91,52.51 L174.41,52.38 L175.91,52.26 L177.41,52.16 L178.91,52.07 L180.42,51.98 L181.92,51.91 L183.42,51.85 L184.93,51.8 L186.43,51.77 L187.94,51.74 L189.45,51.72 L190.95,51.71 L192.46,51.71 L193.97,51.72 L195.47,51.74 L196.98,51.77 L198.49,51.81 L200,51.86 L201.5,51.92 L203.01,51.98 L204.52,52.05 L206.03,52.14 L207.54,52.23 L209.05,52.32 L210.55,52.43 L212.06,52.54 L213.57,52.66 L215.08,52.79 L216.59,52.92 L218.1,53.06 L219.61,53.21 L221.11,53.37 L222.62,53.53 L224.13,53.69 L225.64,53.86 L227.15,54.04 L228.65,54.23 L230.16,54.41 L231.67,54.61 L233.17,54.81 L234.68,55.01 L236.18,55.22 L237.69,55.43 L239.19,55.65 L240.7,55.87 L242.2,56.1 L243.71,56.32 L245.21,56.56 L246.71,56.79 L248.21,57.03 L249.71,57.27 L251.21,57.52 L252.71,57.77 L254.21,58.02 L255.71,58.27 L257.21,58.52 L258.7,58.78 L260.2,59.04 L261.7,59.3 L263.19,59.56 L264.68,59.82 L266.18,60.08 L267.67,60.35 L269.16,60.61 L270.65,60.88 L272.14,61.15 L273.62,61.41 L275.11,61.68 L276.6,61.94 L278.08,62.21 L279.56,62.47 L281.05,62.74 L282.53,63 L284.01,63.26 L285.49,63.53 L286.96,63.79 L288.44,64.04 L289.92,64.3 L291.39,64.56 L292.87,64.82 L294.34,65.07 L295.81,65.33 L297.29,65.59 L298.76,65.84 L300.24,66.1 L301.71,66.36 L303.19,66.62 L304.66,66.89 L306.14,67.15 L307.62,67.42 L309.1,67.69 L310.58,67.96 L312.06,68.23 L313.54,68.51 L315.03,68.78 L316.51,69.04 L318,69.3 L319.49,69.55 L320.98,69.79 L322.47,70.01 L323.96,70.21 L325.46,70.39 L326.96,70.56 L328.45,70.69 L329.95,70.8 L331.45,70.88 L332.96,70.92 L334.46,70.93 L335.96,70.9 L337.47,70.83 L338.98,70.73 L340.48,70.58 L341.99,70.4 L343.49,70.18 L344.99,69.92 L346.49,69.63 L347.98,69.31 L349.47,68.95 L350.95,68.56 L352.42,68.14 L353.89,67.7 L355.35,67.22 L356.8,66.71 L358.23,66.18 L359.66,65.62 L361.07,65.03 L362.47,64.42 L363.86,63.78 L365.24,63.13 L366.59,62.45 L367.93,61.75 L369.26,61.03 L370.56,60.29 L371.85,59.52 L373.11,58.73 L374.35,57.92 L375.56,57.07 L376.74,56.2 L377.9,55.29 L379.02,54.34 L380.1,53.36 L381.16,52.34 L382.17,51.28 L383.15,50.18 L384.08,49.03 L384.97,47.84 L385.81,46.59 L386.61,45.3 L387.36,43.96 L388.06,42.56 L388.71,41.11 L389.3,39.6 M389.3,39.6 L389.27,41.13 L389.24,42.67 L389.22,44.2 L389.19,45.72 L389.16,47.25 L389.14,48.77 L389.11,50.29 L389.09,51.81 L389.06,53.33 L389.04,54.84 L389.01,56.36 L388.99,57.87 L388.96,59.38 L388.94,60.89 L388.91,62.4 L388.89,63.9 L388.86,65.41 L388.84,66.91 L388.81,68.42 L388.79,69.92 L388.76,71.42 L388.73,72.92 L388.7,74.42 L388.68,75.91 L388.65,77.41 L388.62,78.91 L388.59,80.4 L388.55,81.9 L388.52,83.39 L388.49,84.89 L388.45,86.38 L388.41,87.88 L388.38,89.37 L388.34,90.87 L388.3,92.36 L388.25,93.85 L388.21,95.35 L388.16,96.84 L388.12,98.34 L388.07,99.83 L388.02,101.33 L387.96,102.82 L387.91,104.32 L387.85,105.82 L387.79,107.32 L387.73,108.81 L387.67,110.31 L387.6,111.81 L387.54,113.32 L387.47,114.82 L387.39,116.32 L387.32,117.83 L387.24,119.33 L387.16,120.84 L387.07,122.35 L386.99,123.86 L386.9,125.37 L386.8,126.88 L386.7,128.4 L386.59,129.91 L386.47,131.43 L386.35,132.94 L386.21,134.46 L386.07,135.98 L385.92,137.49 L385.76,139.01 L385.59,140.53 L385.41,142.05 L385.22,143.56 L385.01,145.08 L384.79,146.6 L384.56,148.12 L384.31,149.64 L384.05,151.15 L383.77,152.67 L383.47,154.19 L383.16,155.7 L382.83,157.22 L382.48,158.73 L382.12,160.24 L381.73,161.74 L381.31,163.24 L380.87,164.72 L380.41,166.19 L379.91,167.63 L379.38,169.06 L378.82,170.46 L378.22,171.84 L377.58,173.18 L376.91,174.49 L376.19,175.77 L375.43,177 L374.62,178.2 L373.77,179.35 L372.88,180.46 L371.94,181.52 L370.96,182.54 L369.94,183.5 L368.87,184.43 L367.76,185.31 L366.61,186.14 L365.43,186.94 L364.21,187.71 L362.96,188.43 L361.68,189.13 L360.38,189.8 L359.05,190.44 L357.69,191.06 L356.32,191.65 L354.92,192.23 L353.51,192.79 L352.09,193.34 L350.65,193.87 L349.21,194.39 L347.76,194.91 L346.3,195.42 L344.84,195.93 L343.37,196.44 L341.91,196.96 L340.45,197.48 L339,198 L337.56,198.54 L336.12,199.09 L334.69,199.65 L333.27,200.21 L331.86,200.79 L330.45,201.38 L329.05,201.97 L327.66,202.58 L326.27,203.19 L324.89,203.81 L323.52,204.43 L322.15,205.07 L320.78,205.71 L319.42,206.35 L318.06,207 L316.71,207.66 L315.36,208.32 L314.02,208.99 L312.68,209.66 L311.34,210.33 L310,211.01 L308.67,211.69 L307.33,212.37 L306,213.05 L304.67,213.74 L303.34,214.43 L302.02,215.12 L300.69,215.8 L299.36,216.49 L298.03,217.18 L296.7,217.87 L295.37,218.55 L294.04,219.24 L292.71,219.92 L291.37,220.6 L290.03,221.28 L288.69,221.96 L287.35,222.63 L286.01,223.29 L284.66,223.96 L283.31,224.62 L281.96,225.28 L280.6,225.93 L279.24,226.58 L277.88,227.23 L276.52,227.87 L275.15,228.5 L273.79,229.14 L272.42,229.76 L271.04,230.39 L269.67,231.01 L268.29,231.62 L266.91,232.23 L265.52,232.83 L264.14,233.43 L262.75,234.03 L261.36,234.62 L259.97,235.2 L258.57,235.78 L257.17,236.35 L255.77,236.92 L254.37,237.48 L252.96,238.03 L251.55,238.58 L250.14,239.12 L248.73,239.66 L247.31,240.19 L245.9,240.71 L244.48,241.23 L243.05,241.74 L241.63,242.25 L240.2,242.74 L238.77,243.23 L237.34,243.72 L235.9,244.19 L234.47,244.66 L233.03,245.12 L231.59,245.58 L230.14,246.02 L228.7,246.46 L227.25,246.9 L225.8,247.32 L224.35,247.74 L222.89,248.15 L221.44,248.55 L219.98,248.95 L218.52,249.34 L217.06,249.71 L215.59,250.09 L214.13,250.45 L212.66,250.81 L211.19,251.16 L209.72,251.5 L208.25,251.83 L206.78,252.15 L205.3,252.47 L203.82,252.78 L202.35,253.08 L200.87,253.37 L199.38,253.65 L197.9,253.92 L196.42,254.19 L194.93,254.45 L193.44,254.7 L191.95,254.94 L190.46,255.17 L188.97,255.39 L187.48,255.61 L185.99,255.81 L184.49,256.01 L183,256.2 L181.5,256.38 L180,256.55 L178.5,256.71 L177,256.86 L175.5,257 L174,257.13 L172.49,257.26 L170.99,257.37 L169.49,257.48 L167.98,257.57 L166.47,257.66 L164.97,257.74 L163.46,257.81 L161.95,257.87 L160.44,257.92 L158.93,257.96 L157.42,258.01 L155.91,258.04 L154.4,258.08 L152.9,258.11 L151.39,258.14 L149.88,258.17 L148.37,258.2 L146.86,258.24 L145.35,258.28 L143.84,258.32 L142.34,258.37 L140.83,258.42 L139.33,258.48 L137.82,258.55 L136.32,258.63 L134.82,258.72 L133.32,258.82 L131.82,258.93 L130.32,259.06 L128.82,259.2 L127.33,259.35 L125.84,259.53 L124.35,259.72 L122.86,259.93 L121.37,260.15 L119.89,260.4 L118.4,260.68 L116.92,260.97 L115.45,261.29 L113.97,261.63 L112.5,262 M112.5,262 L113,215 L113.8,170.1" fill="none" stroke="#008000" stroke-width="2.0" stroke-linejoin="round" stroke-linecap="round" />
<line x1="305.5" y1="222.1" x2="334.7" y2="222.1" stroke="#000000" stroke-width="2.0"/>
<text x="337.5" y="226.7" font-size="12.5" text-anchor="start" >NPAC-K</text>
<line x1="305.5" y1="238" x2="334.7" y2="238" stroke="#ff0000" stroke-width="2.0"/>
<text x="337.5" y="242.6" font-size="12.5" text-anchor="start" >NPAC-Zn</text>
<line x1="305.5" y1="253.9" x2="334.7" y2="253.9" stroke="#0000ff" stroke-width="2.0"/>
<text x="337.5" y="258.5" font-size="12.5" text-anchor="start" >NPAC-Zn/K</text>
<line x1="305.5" y1="269.8" x2="334.7" y2="269.8" stroke="#008000" stroke-width="2.0"/>
<text x="337.5" y="274.4" font-size="12.5" text-anchor="start" >BNPAC-Zn/K</text>
<text x="28" y="37.6" font-size="44" text-anchor="start" >a</text>
<line x1="527.92" y1="286.8" x2="527.92" y2="282.6" stroke="#000" stroke-width="1.8"/>
<line x1="609.14" y1="286.8" x2="609.14" y2="282.6" stroke="#000" stroke-width="1.8"/>
<line x1="690.36" y1="286.8" x2="690.36" y2="282.6" stroke="#000" stroke-width="1.8"/>
<line x1="771.58" y1="286.8" x2="771.58" y2="282.6" stroke="#000" stroke-width="1.8"/>
<line x1="852.8" y1="286.8" x2="852.8" y2="282.6" stroke="#000" stroke-width="1.8"/>
<line x1="568.53" y1="286.8" x2="568.53" y2="284.5" stroke="#000" stroke-width="1.8"/>
<line x1="649.75" y1="286.8" x2="649.75" y2="284.5" stroke="#000" stroke-width="1.8"/>
<line x1="730.97" y1="286.8" x2="730.97" y2="284.5" stroke="#000" stroke-width="1.8"/>
<line x1="812.19" y1="286.8" x2="812.19" y2="284.5" stroke="#000" stroke-width="1.8"/>
<text x="527.92" y="306" font-size="17" text-anchor="middle" >0</text>
<text x="609.14" y="306" font-size="17" text-anchor="middle" >200</text>
<text x="690.36" y="306" font-size="17" text-anchor="middle" >400</text>
<text x="771.58" y="306" font-size="17" text-anchor="middle" >600</text>
<text x="852.8" y="306" font-size="17" text-anchor="middle" >800</text>
<line x1="519.8" y1="275.15" x2="524" y2="275.15" stroke="#000" stroke-width="1.8"/>
<line x1="519.8" y1="228.54" x2="524" y2="228.54" stroke="#000" stroke-width="1.8"/>
<line x1="519.8" y1="181.93" x2="524" y2="181.93" stroke="#000" stroke-width="1.8"/>
<line x1="519.8" y1="135.32" x2="524" y2="135.32" stroke="#000" stroke-width="1.8"/>
<line x1="519.8" y1="88.71" x2="524" y2="88.71" stroke="#000" stroke-width="1.8"/>
<line x1="519.8" y1="42.1" x2="524" y2="42.1" stroke="#000" stroke-width="1.8"/>
<line x1="519.8" y1="251.84" x2="522.1" y2="251.84" stroke="#000" stroke-width="1.8"/>
<line x1="519.8" y1="205.23" x2="522.1" y2="205.23" stroke="#000" stroke-width="1.8"/>
<line x1="519.8" y1="158.63" x2="522.1" y2="158.63" stroke="#000" stroke-width="1.8"/>
<line x1="519.8" y1="112.02" x2="522.1" y2="112.02" stroke="#000" stroke-width="1.8"/>
<line x1="519.8" y1="65.41" x2="522.1" y2="65.41" stroke="#000" stroke-width="1.8"/>
<text x="513.5" y="280.45" font-size="17" text-anchor="end" >-1.0</text>
<text x="513.5" y="233.84" font-size="17" text-anchor="end" >-0.8</text>
<text x="513.5" y="187.23" font-size="17" text-anchor="end" >-0.6</text>
<text x="513.5" y="140.62" font-size="17" text-anchor="end" >-0.4</text>
<text x="513.5" y="94.01" font-size="17" text-anchor="end" >-0.2</text>
<text x="513.5" y="47.4" font-size="17" text-anchor="end" >0.0</text>
<path d="M527.8,274.6 L529.07,270.66 L530.33,266.72 L531.58,262.78 L532.82,258.84 L534.05,254.91 L535.27,250.97 L536.48,247.03 L537.68,243.09 L538.87,239.15 L540.05,235.21 L541.23,231.27 L542.39,227.33 L543.54,223.39 L544.69,219.45 L545.83,215.52 L546.96,211.58 L548.08,207.64 L549.19,203.7 L550.3,199.76 L551.4,195.82 L552.5,191.88 L553.58,187.94 L554.66,184 L555.74,180.06 L556.8,176.13 L557.87,172.19 L558.92,168.25 L559.97,164.31 L561.02,160.37 L562.06,156.43 L563.1,152.49 L564.13,148.55 L565.16,144.61 L566.18,140.67 L567.2,136.74 L568.22,132.8 L569.23,128.86 L570.24,124.92 L571.25,120.98 L572.25,117.04 L573.25,113.1 L574.25,109.16 L575.25,105.22 L576.24,101.28 L577.24,97.35 L578.23,93.41 L579.22,89.47 L580.21,85.53 L581.2,81.59 L582.19,77.65 L583.18,73.71 L584.16,69.77 L585.15,65.83 L586.14,61.89 L587.13,57.96 L588.12,54.02 L589.11,50.08 L590.1,46.14 L591.1,42.2 L591.81,46.14 L592.51,50.08 L593.23,54.02 L593.95,57.96 L594.68,61.89 L595.42,65.83 L596.17,69.77 L596.92,73.71 L597.69,77.65 L598.47,81.59 L599.26,85.53 L600.06,89.47 L600.87,93.41 L601.69,97.35 L602.53,101.28 L603.38,105.22 L604.24,109.16 L605.12,113.1 L606,117.04 L606.91,120.98 L607.83,124.92 L608.76,128.86 L609.71,132.8 L610.67,136.74 L611.65,140.67 L612.65,144.61 L613.67,148.55 L614.7,152.49 L615.75,156.43 L616.82,160.37 L617.9,164.31 L619.01,168.25 L620.14,172.19 L621.28,176.13 L622.45,180.06 L623.63,184 L624.84,187.94 L626.07,191.88 L627.32,195.82 L628.59,199.76 L629.89,203.7 L631.2,207.64 L632.55,211.58 L633.91,215.52 L635.3,219.45 L636.71,223.39 L638.15,227.33 L639.62,231.27 L641.11,235.21 L642.62,239.15 L644.17,243.09 L645.74,247.03 L647.33,250.97 L648.96,254.91 L650.61,258.84 L652.29,262.78 L654,266.72 L655.74,270.66 L657.51,274.6" fill="none" stroke="#000000" stroke-width="2.0" stroke-linejoin="round" stroke-linecap="round" />
<path d="M527.79,274.6 L529.5,270.66 L531.17,266.72 L532.81,262.78 L534.42,258.84 L536.01,254.91 L537.56,250.97 L539.1,247.03 L540.61,243.09 L542.1,239.15 L543.57,235.21 L545.02,231.27 L546.45,227.33 L547.87,223.39 L549.27,219.45 L550.66,215.52 L552.04,211.58 L553.4,207.64 L554.76,203.7 L556.12,199.76 L557.46,195.82 L558.8,191.88 L560.14,187.94 L561.48,184 L562.82,180.06 L564.16,176.13 L565.5,172.19 L566.85,168.25 L568.2,164.31 L569.56,160.37 L570.93,156.43 L572.31,152.49 L573.7,148.55 L575.1,144.61 L576.52,140.67 L577.95,136.74 L579.41,132.8 L580.88,128.86 L582.37,124.92 L583.88,120.98 L585.41,117.04 L586.97,113.1 L588.56,109.16 L590.17,105.22 L591.82,101.28 L593.49,97.35 L595.2,93.41 L596.93,89.47 L598.71,85.53 L600.52,81.59 L602.37,77.65 L604.25,73.71 L606.18,69.77 L608.15,65.83 L610.16,61.89 L612.22,57.96 L614.32,54.02 L616.47,50.08 L618.68,46.14 L620.93,42.2 L621.54,46.14 L622.14,50.08 L622.79,54.02 L623.48,57.96 L624.21,61.89 L624.98,65.83 L625.8,69.77 L626.66,73.71 L627.56,77.65 L628.5,81.59 L629.48,85.53 L630.5,89.47 L631.56,93.41 L632.66,97.35 L633.8,101.28 L634.97,105.22 L636.19,109.16 L637.44,113.1 L638.72,117.04 L640.05,120.98 L641.41,124.92 L642.8,128.86 L644.23,132.8 L645.7,136.74 L647.2,140.67 L648.74,144.61 L650.3,148.55 L651.91,152.49 L653.54,156.43 L655.21,160.37 L656.9,164.31 L658.63,168.25 L660.4,172.19 L662.19,176.13 L664.01,180.06 L665.86,184 L667.74,187.94 L669.65,191.88 L671.59,195.82 L673.56,199.76 L675.56,203.7 L677.58,207.64 L679.63,211.58 L681.7,215.52 L683.81,219.45 L685.93,223.39 L688.09,227.33 L690.27,231.27 L692.47,235.21 L694.7,239.15 L696.95,243.09 L699.22,247.03 L701.52,250.97 L703.84,254.91 L706.18,258.84 L708.54,262.78 L710.92,266.72 L713.33,270.66 L715.75,274.6" fill="none" stroke="#ff0000" stroke-width="2.0" stroke-linejoin="round" stroke-linecap="round" />
<path d="M527.79,274.6 L530.12,270.66 L532.4,266.72 L534.63,262.78 L536.82,258.84 L538.96,254.91 L541.06,250.97 L543.12,247.03 L545.14,243.09 L547.13,239.15 L549.08,235.21 L551,231.27 L552.88,227.33 L554.74,223.39 L556.58,219.45 L558.39,215.52 L560.17,211.58 L561.94,207.64 L563.69,203.7 L565.42,199.76 L567.14,195.82 L568.84,191.88 L570.54,187.94 L572.22,184 L573.9,180.06 L575.58,176.13 L577.25,172.19 L578.93,168.25 L580.6,164.31 L582.28,160.37 L583.96,156.43 L585.66,152.49 L587.36,148.55 L589.07,144.61 L590.8,140.67 L592.54,136.74 L594.3,132.8 L596.08,128.86 L597.88,124.92 L599.7,120.98 L601.55,117.04 L603.43,113.1 L605.35,109.16 L607.3,105.22 L609.3,101.28 L611.34,97.35 L613.44,93.41 L615.59,89.47 L617.8,85.53 L620.08,81.59 L622.42,77.65 L624.84,73.71 L627.34,69.77 L629.92,65.83 L632.59,61.89 L635.35,57.96 L638.21,54.02 L641.16,50.08 L644.22,46.14 L647.39,42.2 L648.62,46.14 L649.81,50.08 L651.02,54.02 L652.25,57.96 L653.5,61.89 L654.78,65.83 L656.08,69.77 L657.4,73.71 L658.75,77.65 L660.13,81.59 L661.54,85.53 L662.97,89.47 L664.43,93.41 L665.92,97.35 L667.44,101.28 L668.99,105.22 L670.57,109.16 L672.19,113.1 L673.83,117.04 L675.52,120.98 L677.23,124.92 L678.98,128.86 L680.77,132.8 L682.6,136.74 L684.46,140.67 L686.36,144.61 L688.3,148.55 L690.28,152.49 L692.3,156.43 L694.36,160.37 L696.46,164.31 L698.61,168.25 L700.8,172.19 L703.04,176.13 L705.32,180.06 L707.64,184 L710.02,187.94 L712.44,191.88 L714.9,195.82 L717.42,199.76 L719.99,203.7 L722.6,207.64 L725.27,211.58 L727.99,215.52 L730.77,219.45 L733.59,223.39 L736.47,227.33 L739.41,231.27 L742.4,235.21 L745.45,239.15 L748.55,243.09 L751.72,247.03 L754.94,250.97 L758.22,254.91 L761.56,258.84 L764.97,262.78 L768.43,266.72 L771.96,270.66 L775.55,274.6" fill="none" stroke="#0000ff" stroke-width="2.0" stroke-linejoin="round" stroke-linecap="round" />
<path d="M527.8,274.6 L529.61,270.66 L531.48,266.72 L533.41,262.78 L535.39,258.84 L537.42,254.91 L539.5,250.97 L541.62,247.03 L543.79,243.09 L546,239.15 L548.24,235.21 L550.53,231.27 L552.84,227.33 L555.19,223.39 L557.57,219.45 L559.97,215.52 L562.39,211.58 L564.84,207.64 L567.3,203.7 L569.79,199.76 L572.28,195.82 L574.79,191.88 L577.3,187.94 L579.82,184 L582.35,180.06 L584.87,176.13 L587.39,172.19 L589.91,168.25 L592.43,164.31 L594.93,160.37 L597.43,156.43 L599.91,152.49 L602.37,148.55 L604.81,144.61 L607.24,140.67 L609.64,136.74 L612.01,132.8 L614.35,128.86 L616.67,124.92 L618.95,120.98 L621.19,117.04 L623.4,113.1 L625.56,109.16 L627.71,105.22 L629.86,101.28 L632.03,97.35 L634.25,93.41 L636.54,89.47 L638.92,85.53 L641.41,81.59 L644.05,77.65 L646.84,73.71 L649.81,69.77 L653,65.83 L656.51,61.89 L660.49,57.96 L665.11,54.02 L670.51,50.08 L676.85,46.14 L684.29,42.2 L685.05,46.14 L685.8,50.08 L686.63,54.02 L687.55,57.96 L688.55,61.89 L689.63,65.83 L690.8,69.77 L692.05,73.71 L693.37,77.65 L694.77,81.59 L696.26,85.53 L697.81,89.47 L699.45,93.41 L701.15,97.35 L702.93,101.28 L704.79,105.22 L706.71,109.16 L708.71,113.1 L710.77,117.04 L712.9,120.98 L715.1,124.92 L717.37,128.86 L719.7,132.8 L722.1,136.74 L724.56,140.67 L727.08,144.61 L729.66,148.55 L732.31,152.49 L735.01,156.43 L737.77,160.37 L740.59,164.31 L743.47,168.25 L746.4,172.19 L749.39,176.13 L752.42,180.06 L755.52,184 L758.66,187.94 L761.85,191.88 L765.09,195.82 L768.38,199.76 L771.72,203.7 L775.11,207.64 L778.54,211.58 L782.01,215.52 L785.53,219.45 L789.09,223.39 L792.69,227.33 L796.33,231.27 L800.01,235.21 L803.73,239.15 L807.49,243.09 L811.28,247.03 L815.11,250.97 L818.98,254.91 L822.87,258.84 L826.8,262.78 L830.76,266.72 L834.75,270.66 L838.77,274.6" fill="none" stroke="#008000" stroke-width="2.0" stroke-linejoin="round" stroke-linecap="round" />
<line x1="731.9" y1="42.4" x2="761.3" y2="42.4" stroke="#000000" stroke-width="2.0"/>
<text x="764.3" y="47" font-size="12.5" text-anchor="start" >NPAC-K</text>
<line x1="731.9" y1="58.1" x2="761.3" y2="58.1" stroke="#ff0000" stroke-width="2.0"/>
<text x="764.3" y="62.7" font-size="12.5" text-anchor="start" >NPAC-Zn</text>
<line x1="731.9" y1="73.8" x2="761.3" y2="73.8" stroke="#0000ff" stroke-width="2.0"/>
<text x="764.3" y="78.4" font-size="12.5" text-anchor="start" >NPAC-Zn/K</text>
<line x1="731.9" y1="89.5" x2="761.3" y2="89.5" stroke="#008000" stroke-width="2.0"/>
<text x="764.3" y="94.1" font-size="12.5" text-anchor="start" >BNPAC-Zn/K</text>
<text x="451" y="42" font-size="44" text-anchor="start" >b</text>
<line x1="985.19" y1="286.9" x2="985.19" y2="282.7" stroke="#000" stroke-width="1.8"/>
<line x1="1055.67" y1="286.9" x2="1055.67" y2="282.7" stroke="#000" stroke-width="1.8"/>
<line x1="1126.15" y1="286.9" x2="1126.15" y2="282.7" stroke="#000" stroke-width="1.8"/>
<line x1="1196.63" y1="286.9" x2="1196.63" y2="282.7" stroke="#000" stroke-width="1.8"/>
<line x1="1267.11" y1="286.9" x2="1267.11" y2="282.7" stroke="#000" stroke-width="1.8"/>
<line x1="1020.43" y1="286.9" x2="1020.43" y2="284.6" stroke="#000" stroke-width="1.8"/>
<line x1="1090.91" y1="286.9" x2="1090.91" y2="284.6" stroke="#000" stroke-width="1.8"/>
<line x1="1161.39" y1="286.9" x2="1161.39" y2="284.6" stroke="#000" stroke-width="1.8"/>
<line x1="1231.87" y1="286.9" x2="1231.87" y2="284.6" stroke="#000" stroke-width="1.8"/>
<text x="985.19" y="304.6" font-size="16" text-anchor="middle" >0</text>
<text x="1055.67" y="304.6" font-size="16" text-anchor="middle" >5</text>
<text x="1126.15" y="304.6" font-size="16" text-anchor="middle" >10</text>
<text x="1196.63" y="304.6" font-size="16" text-anchor="middle" >15</text>
<text x="1267.11" y="304.6" font-size="16" text-anchor="middle" >20</text>
<line x1="957" y1="286.9" x2="961.2" y2="286.9" stroke="#000" stroke-width="1.8"/>
<line x1="957" y1="252.55" x2="961.2" y2="252.55" stroke="#000" stroke-width="1.8"/>
<line x1="957" y1="218.21" x2="961.2" y2="218.21" stroke="#000" stroke-width="1.8"/>
<line x1="957" y1="183.86" x2="961.2" y2="183.86" stroke="#000" stroke-width="1.8"/>
<line x1="957" y1="149.52" x2="961.2" y2="149.52" stroke="#000" stroke-width="1.8"/>
<line x1="957" y1="115.17" x2="961.2" y2="115.17" stroke="#000" stroke-width="1.8"/>
<line x1="957" y1="80.82" x2="961.2" y2="80.82" stroke="#000" stroke-width="1.8"/>
<line x1="957" y1="46.48" x2="961.2" y2="46.48" stroke="#000" stroke-width="1.8"/>
<line x1="957" y1="269.73" x2="959.3" y2="269.73" stroke="#000" stroke-width="1.8"/>
<line x1="957" y1="235.38" x2="959.3" y2="235.38" stroke="#000" stroke-width="1.8"/>
<line x1="957" y1="201.03" x2="959.3" y2="201.03" stroke="#000" stroke-width="1.8"/>
<line x1="957" y1="166.69" x2="959.3" y2="166.69" stroke="#000" stroke-width="1.8"/>
<line x1="957" y1="132.34" x2="959.3" y2="132.34" stroke="#000" stroke-width="1.8"/>
<line x1="957" y1="98" x2="959.3" y2="98" stroke="#000" stroke-width="1.8"/>
<line x1="957" y1="63.65" x2="959.3" y2="63.65" stroke="#000" stroke-width="1.8"/>
<line x1="957" y1="29.3" x2="959.3" y2="29.3" stroke="#000" stroke-width="1.8"/>
<text x="951.8" y="291.8" font-size="16" text-anchor="end" >50</text>
<text x="951.8" y="257.45" font-size="16" text-anchor="end" >100</text>
<text x="951.8" y="223.11" font-size="16" text-anchor="end" >150</text>
<text x="951.8" y="188.76" font-size="16" text-anchor="end" >200</text>
<text x="951.8" y="154.42" font-size="16" text-anchor="end" >250</text>
<text x="951.8" y="120.07" font-size="16" text-anchor="end" >300</text>
<text x="951.8" y="85.72" font-size="16" text-anchor="end" >350</text>
<text x="951.8" y="51.38" font-size="16" text-anchor="end" >400</text>
<path d="M999.29,206.87 C1001.64,207.85 1006.34,210.82 1013.38,212.71 C1020.43,214.6 1032.18,216.72 1041.58,218.21 C1050.97,219.7 1055.67,219.92 1069.77,221.64 C1083.86,223.36 1093.26,225.65 1126.15,228.51 C1159.04,231.37 1243.62,237.1 1267.11,238.82" fill="none" stroke="#000000" stroke-width="1.8" stroke-linejoin="round" stroke-linecap="round" />
<path d="M999.29,157.76 C1001.64,160.85 1006.34,171.27 1013.38,176.31 C1020.43,181.34 1032.18,184.66 1041.58,187.98 C1050.97,191.3 1055.67,193.82 1069.77,196.23 C1083.86,198.63 1093.26,198.97 1126.15,202.41 C1159.04,205.84 1243.62,214.43 1267.11,216.83" fill="none" stroke="#ff0000" stroke-width="1.8" stroke-linejoin="round" stroke-linecap="round" />
<path d="M999.29,103.83 C1001.64,107.44 1006.34,120.15 1013.38,125.47 C1020.43,130.8 1032.18,133.14 1041.58,135.78 C1050.97,138.41 1055.67,139.21 1069.77,141.27 C1083.86,143.33 1093.26,144.89 1126.15,148.14 C1159.04,151.39 1243.62,158.67 1267.11,160.78" fill="none" stroke="#0000ff" stroke-width="1.8" stroke-linejoin="round" stroke-linecap="round" />
<path d="M999.29,58.84 C1001.64,63.76 1006.34,81.4 1013.38,88.38 C1020.43,95.36 1032.18,97.31 1041.58,100.74 C1050.97,104.18 1055.67,106.7 1069.77,108.99 C1083.86,111.28 1093.26,112.31 1126.15,114.48 C1159.04,116.66 1243.62,120.78 1267.11,122.04" fill="none" stroke="#008000" stroke-width="1.8" stroke-linejoin="round" stroke-linecap="round" />
<path d="M999.29,199.97 L1000.99,204.53 L1005.85,204.74 L1002.04,207.77 L1003.34,212.46 L999.29,209.77 L995.23,212.46 L996.53,207.77 L992.73,204.74 L997.58,204.53Z" fill="#fff" stroke="#000000" stroke-width="1.2" stroke-linejoin="miter"/>
<path d="M1013.38,205.81 L1015.09,210.37 L1019.95,210.58 L1016.14,213.61 L1017.44,218.29 L1013.38,215.61 L1009.33,218.29 L1010.63,213.61 L1006.82,210.58 L1011.68,210.37Z" fill="#fff" stroke="#000000" stroke-width="1.2" stroke-linejoin="miter"/>
<path d="M1041.58,211.31 L1043.28,215.86 L1048.14,216.08 L1044.33,219.1 L1045.63,223.79 L1041.58,221.11 L1037.52,223.79 L1038.82,219.1 L1035.01,216.08 L1039.87,215.86Z" fill="#fff" stroke="#000000" stroke-width="1.2" stroke-linejoin="miter"/>
<path d="M1069.77,214.74 L1071.47,219.3 L1076.33,219.51 L1072.52,222.54 L1073.82,227.22 L1069.77,224.54 L1065.71,227.22 L1067.01,222.54 L1063.2,219.51 L1068.06,219.3Z" fill="#fff" stroke="#000000" stroke-width="1.2" stroke-linejoin="miter"/>
<path d="M1126.15,221.61 L1127.85,226.17 L1132.71,226.38 L1128.91,229.41 L1130.21,234.09 L1126.15,231.41 L1122.09,234.09 L1123.39,229.41 L1119.59,226.38 L1124.45,226.17Z" fill="#fff" stroke="#000000" stroke-width="1.2" stroke-linejoin="miter"/>
<path d="M1267.11,231.92 L1268.81,236.47 L1273.67,236.68 L1269.86,239.71 L1271.16,244.4 L1267.11,241.71 L1263.05,244.4 L1264.35,239.71 L1260.55,236.68 L1265.4,236.47Z" fill="#fff" stroke="#000000" stroke-width="1.2" stroke-linejoin="miter"/>
<path d="M999.29,150.86 L1000.99,155.41 L1005.85,155.63 L1002.04,158.65 L1003.34,163.34 L999.29,160.66 L995.23,163.34 L996.53,158.65 L992.73,155.63 L997.58,155.41Z" fill="#fff" stroke="#ff0000" stroke-width="1.2" stroke-linejoin="miter"/>
<path d="M1013.38,169.41 L1015.09,173.96 L1019.95,174.17 L1016.14,177.2 L1017.44,181.89 L1013.38,179.2 L1009.33,181.89 L1010.63,177.2 L1006.82,174.17 L1011.68,173.96Z" fill="#fff" stroke="#ff0000" stroke-width="1.2" stroke-linejoin="miter"/>
<path d="M1041.58,181.08 L1043.28,185.64 L1048.14,185.85 L1044.33,188.88 L1045.63,193.57 L1041.58,190.88 L1037.52,193.57 L1038.82,188.88 L1035.01,185.85 L1039.87,185.64Z" fill="#fff" stroke="#ff0000" stroke-width="1.2" stroke-linejoin="miter"/>
<path d="M1069.77,189.33 L1071.47,193.88 L1076.33,194.09 L1072.52,197.12 L1073.82,201.81 L1069.77,199.12 L1065.71,201.81 L1067.01,197.12 L1063.2,194.09 L1068.06,193.88Z" fill="#fff" stroke="#ff0000" stroke-width="1.2" stroke-linejoin="miter"/>
<path d="M1126.15,195.51 L1127.85,200.06 L1132.71,200.28 L1128.91,203.3 L1130.21,207.99 L1126.15,205.31 L1122.09,207.99 L1123.39,203.3 L1119.59,200.28 L1124.45,200.06Z" fill="#fff" stroke="#ff0000" stroke-width="1.2" stroke-linejoin="miter"/>
<path d="M1267.11,209.93 L1268.81,214.49 L1273.67,214.7 L1269.86,217.73 L1271.16,222.42 L1267.11,219.73 L1263.05,222.42 L1264.35,217.73 L1260.55,214.7 L1265.4,214.49Z" fill="#fff" stroke="#ff0000" stroke-width="1.2" stroke-linejoin="miter"/>
<path d="M999.29,96.93 L1000.99,101.49 L1005.85,101.7 L1002.04,104.73 L1003.34,109.42 L999.29,106.73 L995.23,109.42 L996.53,104.73 L992.73,101.7 L997.58,101.49Z" fill="#fff" stroke="#0000ff" stroke-width="1.2" stroke-linejoin="miter"/>
<path d="M1013.38,118.57 L1015.09,123.13 L1019.95,123.34 L1016.14,126.37 L1017.44,131.06 L1013.38,128.37 L1009.33,131.06 L1010.63,126.37 L1006.82,123.34 L1011.68,123.13Z" fill="#fff" stroke="#0000ff" stroke-width="1.2" stroke-linejoin="miter"/>
<path d="M1041.58,128.88 L1043.28,133.43 L1048.14,133.64 L1044.33,136.67 L1045.63,141.36 L1041.58,138.67 L1037.52,141.36 L1038.82,136.67 L1035.01,133.64 L1039.87,133.43Z" fill="#fff" stroke="#0000ff" stroke-width="1.2" stroke-linejoin="miter"/>
<path d="M1069.77,134.37 L1071.47,138.93 L1076.33,139.14 L1072.52,142.17 L1073.82,146.85 L1069.77,144.17 L1065.71,146.85 L1067.01,142.17 L1063.2,139.14 L1068.06,138.93Z" fill="#fff" stroke="#0000ff" stroke-width="1.2" stroke-linejoin="miter"/>
<path d="M1126.15,141.24 L1127.85,145.8 L1132.71,146.01 L1128.91,149.04 L1130.21,153.72 L1126.15,151.04 L1122.09,153.72 L1123.39,149.04 L1119.59,146.01 L1124.45,145.8Z" fill="#fff" stroke="#0000ff" stroke-width="1.2" stroke-linejoin="miter"/>
<path d="M1267.11,153.88 L1268.81,158.44 L1273.67,158.65 L1269.86,161.68 L1271.16,166.36 L1267.11,163.68 L1263.05,166.36 L1264.35,161.68 L1260.55,158.65 L1265.4,158.44Z" fill="#fff" stroke="#0000ff" stroke-width="1.2" stroke-linejoin="miter"/>
<path d="M999.29,51.94 L1000.99,56.5 L1005.85,56.71 L1002.04,59.74 L1003.34,64.42 L999.29,61.74 L995.23,64.42 L996.53,59.74 L992.73,56.71 L997.58,56.5Z" fill="#fff" stroke="#008000" stroke-width="1.2" stroke-linejoin="miter"/>
<path d="M1013.38,81.48 L1015.09,86.03 L1019.95,86.25 L1016.14,89.27 L1017.44,93.96 L1013.38,91.28 L1009.33,93.96 L1010.63,89.27 L1006.82,86.25 L1011.68,86.03Z" fill="#fff" stroke="#008000" stroke-width="1.2" stroke-linejoin="miter"/>
<path d="M1041.58,93.84 L1043.28,98.4 L1048.14,98.61 L1044.33,101.64 L1045.63,106.33 L1041.58,103.64 L1037.52,106.33 L1038.82,101.64 L1035.01,98.61 L1039.87,98.4Z" fill="#fff" stroke="#008000" stroke-width="1.2" stroke-linejoin="miter"/>
<path d="M1069.77,102.09 L1071.47,106.64 L1076.33,106.85 L1072.52,109.88 L1073.82,114.57 L1069.77,111.88 L1065.71,114.57 L1067.01,109.88 L1063.2,106.85 L1068.06,106.64Z" fill="#fff" stroke="#008000" stroke-width="1.2" stroke-linejoin="miter"/>
<path d="M1126.15,107.58 L1127.85,112.14 L1132.71,112.35 L1128.91,115.38 L1130.21,120.06 L1126.15,117.38 L1122.09,120.06 L1123.39,115.38 L1119.59,112.35 L1124.45,112.14Z" fill="#fff" stroke="#008000" stroke-width="1.2" stroke-linejoin="miter"/>
<path d="M1267.11,115.14 L1268.81,119.69 L1273.67,119.91 L1269.86,122.93 L1271.16,127.62 L1267.11,124.94 L1263.05,127.62 L1264.35,122.93 L1260.55,119.91 L1265.4,119.69Z" fill="#fff" stroke="#008000" stroke-width="1.2" stroke-linejoin="miter"/>
<line x1="1042.3" y1="34.4" x2="1072.1" y2="34.4" stroke="#000000" stroke-width="2.0"/>
<path d="M1057.3,27.5 L1059,32.06 L1063.86,32.27 L1060.06,35.3 L1061.36,39.98 L1057.3,37.3 L1053.24,39.98 L1054.54,35.3 L1050.74,32.27 L1055.6,32.06Z" fill="#fff" stroke="#000000" stroke-width="1.2" stroke-linejoin="miter"/>
<text x="1079.1" y="39" font-size="12.5" text-anchor="start" >NPAC-K</text>
<line x1="1172" y1="34.4" x2="1201.8" y2="34.4" stroke="#ff0000" stroke-width="2.0"/>
<path d="M1187,27.5 L1188.7,32.06 L1193.56,32.27 L1189.76,35.3 L1191.06,39.98 L1187,37.3 L1182.94,39.98 L1184.24,35.3 L1180.44,32.27 L1185.3,32.06Z" fill="#fff" stroke="#ff0000" stroke-width="1.2" stroke-linejoin="miter"/>
<text x="1208.8" y="39" font-size="12.5" text-anchor="start" >NPAC-Zn</text>
<line x1="1042.3" y1="51.3" x2="1072.1" y2="51.3" stroke="#0000ff" stroke-width="2.0"/>
<path d="M1057.3,44.4 L1059,48.96 L1063.86,49.17 L1060.06,52.2 L1061.36,56.88 L1057.3,54.2 L1053.24,56.88 L1054.54,52.2 L1050.74,49.17 L1055.6,48.96Z" fill="#fff" stroke="#0000ff" stroke-width="1.2" stroke-linejoin="miter"/>
<text x="1079.1" y="55.9" font-size="12.5" text-anchor="start" >NPAC-Zn/K</text>
<line x1="1173.4" y1="51.3" x2="1203.2" y2="51.3" stroke="#008000" stroke-width="2.0"/>
<path d="M1188.4,44.4 L1190.1,48.96 L1194.96,49.17 L1191.16,52.2 L1192.46,56.88 L1188.4,54.2 L1184.34,56.88 L1185.64,52.2 L1181.84,49.17 L1186.7,48.96Z" fill="#fff" stroke="#008000" stroke-width="1.2" stroke-linejoin="miter"/>
<text x="1210.2" y="55.9" font-size="12.5" text-anchor="start" >BNPAC-Zn/K</text>
<text x="893" y="42" font-size="44" text-anchor="start" >c</text>
<line x1="108.32" y1="637.2" x2="108.32" y2="633" stroke="#000" stroke-width="1.8"/>
<line x1="164.55" y1="637.2" x2="164.55" y2="633" stroke="#000" stroke-width="1.8"/>
<line x1="220.78" y1="637.2" x2="220.78" y2="633" stroke="#000" stroke-width="1.8"/>
<line x1="277.02" y1="637.2" x2="277.02" y2="633" stroke="#000" stroke-width="1.8"/>
<line x1="333.25" y1="637.2" x2="333.25" y2="633" stroke="#000" stroke-width="1.8"/>
<line x1="389.48" y1="637.2" x2="389.48" y2="633" stroke="#000" stroke-width="1.8"/>
<line x1="136.43" y1="637.2" x2="136.43" y2="634.9" stroke="#000" stroke-width="1.8"/>
<line x1="192.67" y1="637.2" x2="192.67" y2="634.9" stroke="#000" stroke-width="1.8"/>
<line x1="248.9" y1="637.2" x2="248.9" y2="634.9" stroke="#000" stroke-width="1.8"/>
<line x1="305.13" y1="637.2" x2="305.13" y2="634.9" stroke="#000" stroke-width="1.8"/>
<line x1="361.37" y1="637.2" x2="361.37" y2="634.9" stroke="#000" stroke-width="1.8"/>
<text x="108.32" y="657" font-size="17" text-anchor="middle" >-1.0</text>
<text x="164.55" y="657" font-size="17" text-anchor="middle" >-0.8</text>
<text x="220.78" y="657" font-size="17" text-anchor="middle" >-0.6</text>
<text x="277.02" y="657" font-size="17" text-anchor="middle" >-0.4</text>
<text x="333.25" y="657" font-size="17" text-anchor="middle" >-0.2</text>
<text x="389.48" y="657" font-size="17" text-anchor="middle" >0.0</text>
<line x1="80.2" y1="394.02" x2="84.4" y2="394.02" stroke="#000" stroke-width="1.8"/>
<line x1="80.2" y1="430.5" x2="84.4" y2="430.5" stroke="#000" stroke-width="1.8"/>
<line x1="80.2" y1="466.97" x2="84.4" y2="466.97" stroke="#000" stroke-width="1.8"/>
<line x1="80.2" y1="503.45" x2="84.4" y2="503.45" stroke="#000" stroke-width="1.8"/>
<line x1="80.2" y1="539.93" x2="84.4" y2="539.93" stroke="#000" stroke-width="1.8"/>
<line x1="80.2" y1="576.4" x2="84.4" y2="576.4" stroke="#000" stroke-width="1.8"/>
<line x1="80.2" y1="612.88" x2="84.4" y2="612.88" stroke="#000" stroke-width="1.8"/>
<line x1="80.2" y1="375.78" x2="82.5" y2="375.78" stroke="#000" stroke-width="1.8"/>
<line x1="80.2" y1="412.26" x2="82.5" y2="412.26" stroke="#000" stroke-width="1.8"/>
<line x1="80.2" y1="448.73" x2="82.5" y2="448.73" stroke="#000" stroke-width="1.8"/>
<line x1="80.2" y1="485.21" x2="82.5" y2="485.21" stroke="#000" stroke-width="1.8"/>
<line x1="80.2" y1="521.69" x2="82.5" y2="521.69" stroke="#000" stroke-width="1.8"/>
<line x1="80.2" y1="558.17" x2="82.5" y2="558.17" stroke="#000" stroke-width="1.8"/>
<line x1="80.2" y1="594.64" x2="82.5" y2="594.64" stroke="#000" stroke-width="1.8"/>
<line x1="80.2" y1="631.12" x2="82.5" y2="631.12" stroke="#000" stroke-width="1.8"/>
<text x="74" y="399.32" font-size="17" text-anchor="end" >90</text>
<text x="74" y="435.8" font-size="17" text-anchor="end" >60</text>
<text x="74" y="472.27" font-size="17" text-anchor="end" >30</text>
<text x="74" y="508.75" font-size="17" text-anchor="end" >0</text>
<text x="74" y="545.23" font-size="17" text-anchor="end" >-30</text>
<text x="74" y="581.7" font-size="17" text-anchor="end" >-60</text>
<text x="74" y="618.18" font-size="17" text-anchor="end" >-90</text>
<path d="M140.9,475.01 L141.5,473.46 L142.12,471.93 L142.77,470.42 L143.44,468.93 L144.12,467.47 L144.83,466.03 L145.56,464.61 L146.31,463.22 L147.09,461.85 L147.88,460.5 L148.69,459.17 L149.52,457.86 L150.36,456.58 L151.23,455.32 L152.12,454.08 L153.02,452.86 L153.95,451.66 L154.89,450.49 L155.84,449.33 L156.82,448.2 L157.81,447.09 L158.82,445.99 L159.84,444.92 L160.89,443.87 L161.94,442.84 L163.02,441.84 L164.11,440.85 L165.21,439.88 L166.33,438.93 L167.46,438 L168.61,437.09 L169.77,436.2 L170.94,435.33 L172.13,434.48 L173.34,433.65 L174.55,432.84 L175.78,432.05 L177.02,431.28 L178.27,430.52 L179.54,429.79 L180.81,429.07 L182.1,428.37 L183.4,427.69 L184.71,427.03 L186.03,426.39 L187.36,425.76 L188.71,425.16 L190.06,424.57 L191.42,423.99 L192.79,423.44 L194.17,422.9 L195.56,422.38 L196.95,421.88 L198.36,421.4 L199.77,420.93 L201.19,420.48 L202.62,420.04 L204.06,419.62 L205.5,419.22 L206.95,418.84 L208.41,418.47 L209.87,418.12 L211.34,417.78 L212.81,417.46 L214.29,417.16 L215.77,416.87 L217.26,416.6 L218.76,416.34 L220.26,416.1 L221.76,415.87 L223.27,415.66 L224.78,415.46 L226.29,415.28 L227.8,415.11 L229.32,414.96 L230.85,414.82 L232.37,414.7 L233.89,414.59 L235.42,414.49 L236.95,414.41 L238.48,414.34 L240.01,414.29 L241.54,414.25 L243.08,414.22 L244.61,414.21 L246.14,414.21 L247.67,414.23 L249.21,414.25 L250.74,414.29 L252.27,414.35 L253.79,414.41 L255.32,414.49 L256.84,414.58 L258.37,414.68 L259.89,414.8 L261.4,414.93 L262.92,415.06 L264.44,415.21 L265.95,415.37 L267.46,415.54 L268.97,415.73 L270.47,415.92 L271.98,416.12 L273.48,416.33 L274.98,416.55 L276.49,416.77 L277.98,417.01 L279.48,417.25 L280.98,417.5 L282.47,417.76 L283.97,418.03 L285.46,418.3 L286.95,418.58 L288.44,418.87 L289.93,419.16 L291.41,419.46 L292.9,419.76 L294.38,420.07 L295.87,420.38 L297.35,420.7 L298.83,421.02 L300.31,421.34 L301.8,421.67 L303.27,422 L304.75,422.34 L306.23,422.67 L307.71,423.01 L309.19,423.35 L310.66,423.69 L312.14,424.04 L313.61,424.38 L315.09,424.73 L316.56,425.07 L318.04,425.42 L319.51,425.76 L320.99,426.11 L322.46,426.45 L323.93,426.8 L325.41,427.14 L326.88,427.48 L328.35,427.82 L329.83,428.15 L331.3,428.48 L332.78,428.81 L334.25,429.14 L335.72,429.46 L337.2,429.78 L338.67,430.1 L340.15,430.41 L341.62,430.71 L343.1,431.01 L344.57,431.31 L346.05,431.6 L347.53,431.88 L349,432.16 L350.48,432.43 L351.96,432.69 L353.44,432.95 L354.92,433.2 L356.4,433.44 L357.89,433.67 L359.37,433.89 L360.85,434.11 L362.34,434.31 L363.83,434.51 L365.31,434.7 L366.8,434.87 L368.29,435.04 L369.78,435.2 L371.27,435.34 L372.77,435.47 L374.26,435.6 L375.76,435.71 L377.26,435.81 L378.76,435.89 L380.26,435.96 L381.76,436.02 L383.26,436.07 L384.77,436.1 L386.28,436.12 L387.78,436.12 L389.3,436.11 M389.3,436.1 L389.1,437.58 L388.9,439.07 L388.69,440.54 L388.47,442.02 L388.25,443.5 L388.03,444.97 L387.79,446.45 L387.55,447.92 L387.31,449.39 L387.06,450.86 L386.8,452.33 L386.54,453.8 L386.26,455.27 L385.99,456.74 L385.7,458.21 L385.41,459.68 L385.11,461.15 L384.81,462.62 L384.5,464.09 L384.18,465.56 L383.85,467.03 L383.52,468.5 L383.18,469.97 L382.83,471.45 L382.47,472.92 L382.1,474.39 L381.73,475.87 L381.35,477.35 L380.96,478.83 L380.56,480.31 L380.16,481.79 L379.74,483.27 L379.32,484.75 L378.89,486.24 L378.44,487.72 L377.99,489.2 L377.52,490.68 L377.04,492.15 L376.55,493.62 L376.05,495.09 L375.53,496.55 L375,498 L374.45,499.44 L373.89,500.88 L373.31,502.31 L372.71,503.72 L372.1,505.13 L371.47,506.53 L370.82,507.91 L370.15,509.28 L369.46,510.64 L368.76,511.98 L368.03,513.31 L367.28,514.62 L366.51,515.92 L365.72,517.19 L364.91,518.45 L364.07,519.68 L363.22,520.89 L362.34,522.08 L361.44,523.25 L360.52,524.39 L359.57,525.51 L358.6,526.6 L357.61,527.66 L356.59,528.69 L355.55,529.69 L354.48,530.67 L353.39,531.61 L352.27,532.51 L351.13,533.39 L349.97,534.22 L348.78,535.03 L347.56,535.81 L346.33,536.56 L345.07,537.27 L343.8,537.97 L342.51,538.64 L341.2,539.28 L339.87,539.9 L338.52,540.51 L337.17,541.09 L335.8,541.65 L334.41,542.2 L333.02,542.73 L331.61,543.25 L330.19,543.76 L328.77,544.26 L327.34,544.75 L325.9,545.23 L324.46,545.7 L323.01,546.17 L321.56,546.64 L320.11,547.1 L318.65,547.56 L317.2,548.03 L315.74,548.49 L314.29,548.96 L312.84,549.43 L311.39,549.91 L309.94,550.38 L308.5,550.86 L307.05,551.35 L305.6,551.83 L304.16,552.32 L302.72,552.81 L301.28,553.3 L299.84,553.8 L298.4,554.29 L296.96,554.79 L295.52,555.29 L294.09,555.8 L292.65,556.3 L291.22,556.81 L289.79,557.31 L288.35,557.82 L286.92,558.33 L285.49,558.85 L284.06,559.36 L282.63,559.87 L281.2,560.39 L279.78,560.91 L278.35,561.42 L276.92,561.94 L275.5,562.46 L274.07,562.98 L272.65,563.5 L271.23,564.02 L269.8,564.55 L268.38,565.07 L266.96,565.59 L265.53,566.11 L264.11,566.63 L262.69,567.16 L261.27,567.68 L259.85,568.2 L258.43,568.72 L257.01,569.24 L255.59,569.76 L254.17,570.28 L252.75,570.8 L251.33,571.32 L249.91,571.84 L248.49,572.36 L247.07,572.87 L245.65,573.39 L244.23,573.9 L242.82,574.42 L241.4,574.93 L239.98,575.44 L238.56,575.95 L237.14,576.46 L235.72,576.96 L234.3,577.46 L232.88,577.97 L231.46,578.47 L230.04,578.97 L228.61,579.46 L227.19,579.96 L225.77,580.45 L224.35,580.94 L222.93,581.42 L221.5,581.91 L220.08,582.39 L218.65,582.87 L217.23,583.35 L215.8,583.82 L214.38,584.29 L212.95,584.76 L211.52,585.22 L210.09,585.68 L208.67,586.14 L207.24,586.6 L205.81,587.05 L204.37,587.49 L202.94,587.94 L201.51,588.38 L200.08,588.82 L198.64,589.25 L197.2,589.68 L195.77,590.1 L194.33,590.52 L192.89,590.94 L191.45,591.35 L190.01,591.76 L188.57,592.16 L187.12,592.56 L185.68,592.95 L184.23,593.34 L182.79,593.73 L181.34,594.11 L179.89,594.48 L178.44,594.85 L176.99,595.21 L175.53,595.57 L174.08,595.93 L172.62,596.28 L171.16,596.62 L169.7,596.96 L168.24,597.29 L166.78,597.61 L165.31,597.93 L163.85,598.25 L162.38,598.55 L160.91,598.85 L159.44,599.15 L157.97,599.44 L156.49,599.72 L155.02,600 L153.54,600.27 L152.06,600.53 L150.58,600.79 L149.09,601.04 L147.61,601.28 L146.12,601.52 L144.63,601.75 L143.14,601.97 L141.64,602.18 L140.15,602.39 L138.65,602.59 L137.15,602.78 L135.65,602.96 L134.14,603.14 L132.63,603.31 L131.12,603.47 L129.61,603.63 L128.1,603.77 L126.58,603.91 L125.06,604.04 L123.54,604.16 L122.02,604.27 L120.49,604.37 L118.97,604.47 L117.44,604.56 L115.9,604.64 L114.37,604.7 L112.83,604.77 L111.29,604.82 L109.74,604.86 L108.2,604.89 M108.2,604.9 L108.37,603.38 L108.54,601.87 L108.71,600.35 L108.89,598.83 L109.07,597.31 L109.26,595.8 L109.44,594.28 L109.63,592.76 L109.83,591.25 L110.02,589.73 L110.22,588.21 L110.43,586.7 L110.64,585.18 L110.85,583.67 L111.06,582.15 L111.28,580.64 L111.5,579.12 L111.73,577.61 L111.96,576.1 L112.2,574.59 L112.43,573.07 L112.68,571.56 L112.93,570.05 L113.18,568.54 L113.43,567.03 L113.69,565.53 L113.96,564.02 L114.23,562.51 L114.5,561.01 L114.78,559.5 L115.06,558 L115.35,556.49 L115.64,554.99 L115.94,553.49 L116.24,551.99 L116.55,550.49 L116.86,549 L117.18,547.5 L117.5,546.01 L117.83,544.51 L118.17,543.02 L118.51,541.53 L118.85,540.04 L119.2,538.55 L119.55,537.06 L119.92,535.58 L120.28,534.1 L120.65,532.61 L121.03,531.13 L121.42,529.65 L121.81,528.18 L122.2,526.7 L122.6,525.23 L123.01,523.75 L123.42,522.28 L123.84,520.82 L124.27,519.35 L124.7,517.88 L125.14,516.42 L125.59,514.96 L126.04,513.5 L126.5,512.04 L126.96,510.59 L127.43,509.14 L127.91,507.69 L128.4,506.24 L128.89,504.79 L129.39,503.35 L129.89,501.91 L130.41,500.47 L130.93,499.03 L131.45,497.6 L131.99,496.16 L132.53,494.74 L133.08,493.31 L133.63,491.88 L134.2,490.46 L134.77,489.04 L135.35,487.63 L135.93,486.21 L136.53,484.8 L137.13,483.39 L137.74,481.99 L138.35,480.58 L138.98,479.18 L139.61,477.79 L140.25,476.39 L140.9,475" fill="none" stroke="#8000ff" stroke-width="2.0" stroke-linejoin="round" stroke-linecap="round" />
<path d="M131.58,479.98 L132.61,478.79 L133.65,477.65 L134.72,476.54 L135.81,475.48 L136.92,474.45 L138.04,473.46 L139.19,472.51 L140.36,471.6 L141.54,470.72 L142.74,469.88 L143.96,469.08 L145.2,468.31 L146.45,467.57 L147.72,466.86 L149,466.19 L150.3,465.55 L151.62,464.93 L152.95,464.35 L154.29,463.8 L155.64,463.27 L157.01,462.77 L158.39,462.29 L159.78,461.85 L161.18,461.42 L162.6,461.02 L164.02,460.65 L165.45,460.29 L166.9,459.96 L168.35,459.65 L169.81,459.36 L171.28,459.09 L172.75,458.83 L174.24,458.6 L175.73,458.38 L177.22,458.18 L178.72,457.99 L180.23,457.82 L181.74,457.66 L183.25,457.51 L184.77,457.38 L186.29,457.26 L187.82,457.15 L189.34,457.05 L190.87,456.95 L192.4,456.87 L193.93,456.8 L195.47,456.73 L197,456.66 L198.53,456.61 L200.06,456.56 L201.59,456.51 L203.12,456.48 L204.65,456.44 L206.18,456.42 L207.72,456.4 L209.25,456.38 L210.78,456.38 L212.31,456.37 L213.84,456.37 L215.37,456.38 L216.9,456.4 L218.43,456.41 L219.96,456.44 L221.49,456.47 L223.02,456.5 L224.55,456.54 L226.08,456.59 L227.61,456.63 L229.13,456.69 L230.66,456.75 L232.19,456.81 L233.72,456.88 L235.24,456.95 L236.77,457.03 L238.3,457.11 L239.82,457.2 L241.35,457.29 L242.87,457.38 L244.4,457.48 L245.92,457.58 L247.44,457.69 L248.96,457.8 L250.49,457.92 L252.01,458.03 L253.53,458.16 L255.05,458.28 L256.57,458.41 L258.08,458.55 L259.6,458.68 L261.12,458.82 L262.63,458.96 L264.15,459.11 L265.66,459.26 L267.18,459.41 L268.69,459.57 L270.2,459.73 L271.71,459.89 L273.23,460.05 L274.74,460.22 L276.24,460.39 L277.75,460.56 L279.26,460.73 L280.77,460.9 L282.27,461.08 L283.78,461.26 L285.29,461.44 L286.79,461.62 L288.3,461.8 L289.8,461.98 L291.3,462.16 L292.81,462.34 L294.31,462.52 L295.81,462.71 L297.31,462.89 L298.81,463.07 L300.32,463.25 L301.82,463.44 L303.32,463.62 L304.82,463.8 L306.32,463.97 L307.82,464.15 L309.32,464.33 L310.82,464.5 L312.32,464.68 L313.82,464.85 L315.32,465.01 L316.82,465.18 L318.32,465.35 L319.82,465.51 L321.32,465.67 L322.82,465.82 L324.32,465.98 L325.82,466.12 L327.32,466.27 L328.82,466.41 L330.32,466.55 L331.82,466.69 L333.32,466.82 L334.82,466.95 L336.32,467.07 L337.83,467.19 L339.33,467.3 L340.83,467.41 L342.34,467.51 L343.84,467.61 L345.34,467.7 L346.85,467.79 L348.35,467.87 L349.86,467.95 L351.37,468.02 L352.87,468.08 L354.38,468.14 L355.89,468.19 L357.4,468.23 L358.91,468.27 L360.42,468.3 L361.93,468.32 L363.45,468.34 L364.96,468.34 L366.47,468.34 L367.99,468.34 L369.5,468.32 L371.02,468.3 L372.54,468.26 L374.06,468.22 L375.58,468.17 L377.1,468.11 L378.62,468.05 L380.14,467.97 L381.66,467.88 L383.19,467.79 L384.72,467.68 L386.24,467.57 L387.77,467.44 L389.3,467.31 M389.3,467.31 L389.19,468.6 L389.06,469.94 L388.92,471.31 L388.77,472.73 L388.59,474.17 L388.4,475.64 L388.19,477.13 L387.96,478.65 L387.71,480.19 L387.44,481.74 L387.15,483.31 L386.83,484.88 L386.49,486.46 L386.12,488.04 L385.73,489.62 L385.31,491.19 L384.86,492.76 L384.38,494.31 L383.87,495.85 L383.33,497.38 L382.76,498.88 L382.15,500.36 L381.51,501.81 L380.84,503.23 L380.13,504.61 L379.39,505.96 L378.6,507.26 L377.78,508.53 L376.92,509.74 L376.01,510.91 L375.07,512.02 L374.08,513.07 L373.05,514.06 L371.98,514.99 L370.86,515.85 L369.7,516.65 L368.5,517.39 L367.26,518.08 L365.98,518.71 L364.68,519.29 L363.34,519.83 L361.97,520.32 L360.58,520.77 L359.16,521.19 L357.73,521.58 L356.27,521.93 L354.8,522.26 L353.32,522.57 L351.82,522.85 L350.31,523.12 L348.8,523.38 L347.28,523.63 L345.76,523.87 L344.24,524.11 L342.72,524.35 L341.21,524.59 L339.69,524.83 L338.18,525.07 L336.68,525.31 L335.17,525.55 L333.67,525.8 L332.16,526.04 L330.66,526.29 L329.16,526.53 L327.67,526.78 L326.17,527.02 L324.68,527.27 L323.19,527.52 L321.69,527.77 L320.21,528.02 L318.72,528.28 L317.23,528.53 L315.74,528.79 L314.26,529.04 L312.77,529.3 L311.29,529.56 L309.8,529.82 L308.32,530.08 L306.84,530.35 L305.35,530.61 L303.87,530.88 L302.39,531.15 L300.9,531.42 L299.42,531.69 L297.94,531.96 L296.46,532.23 L294.97,532.51 L293.49,532.79 L292.01,533.07 L290.53,533.35 L289.04,533.63 L287.56,533.91 L286.08,534.19 L284.59,534.48 L283.11,534.76 L281.63,535.05 L280.14,535.34 L278.66,535.63 L277.18,535.91 L275.69,536.2 L274.21,536.49 L272.73,536.78 L271.24,537.07 L269.76,537.36 L268.27,537.65 L266.79,537.94 L265.31,538.23 L263.82,538.53 L262.34,538.82 L260.85,539.11 L259.37,539.4 L257.88,539.69 L256.4,539.98 L254.91,540.27 L253.43,540.56 L251.94,540.85 L250.45,541.14 L248.97,541.42 L247.48,541.71 L246,542 L244.51,542.28 L243.02,542.57 L241.53,542.85 L240.05,543.13 L238.56,543.41 L237.07,543.69 L235.58,543.97 L234.1,544.25 L232.61,544.53 L231.12,544.8 L229.63,545.08 L228.14,545.35 L226.65,545.62 L225.16,545.89 L223.67,546.15 L222.18,546.42 L220.69,546.68 L219.2,546.94 L217.71,547.2 L216.22,547.46 L214.73,547.71 L213.23,547.97 L211.74,548.22 L210.25,548.46 L208.76,548.71 L207.26,548.95 L205.77,549.19 L204.28,549.43 L202.78,549.67 L201.29,549.9 L199.79,550.13 L198.3,550.35 L196.8,550.58 L195.31,550.8 L193.81,551.02 L192.32,551.23 L190.82,551.44 L189.32,551.65 L187.82,551.85 L186.33,552.05 L184.83,552.25 L183.33,552.44 L181.83,552.63 L180.33,552.82 L178.83,553 L177.33,553.18 L175.83,553.36 L174.33,553.53 L172.83,553.69 L171.32,553.86 L169.82,554.02 L168.32,554.17 L166.82,554.32 L165.31,554.47 L163.81,554.61 L162.3,554.74 L160.8,554.88 L159.29,555 L157.79,555.13 L156.28,555.24 L154.77,555.36 L153.27,555.47 L151.76,555.57 L150.25,555.67 L148.74,555.76 L147.23,555.85 L145.72,555.93 L144.21,556.01 L142.7,556.08 L141.19,556.15 L139.68,556.21 L138.17,556.26 L136.65,556.31 L135.14,556.36 L133.62,556.39 L132.11,556.43 L130.59,556.45 L129.08,556.47 L127.56,556.49 L126.05,556.5 L124.53,556.5 L123.01,556.49 L121.49,556.48 L119.97,556.47 L118.45,556.44 L116.93,556.41 L115.41,556.38 L113.89,556.33 L112.37,556.28 L110.85,556.23 L109.32,556.16 L107.8,556.09 M107.8,556.1 L108.11,554.65 L108.4,553.18 L108.68,551.7 L108.94,550.22 L109.2,548.73 L109.44,547.22 L109.68,545.71 L109.91,544.2 L110.13,542.68 L110.35,541.15 L110.56,539.61 L110.77,538.08 L110.98,536.54 L111.19,534.99 L111.4,533.45 L111.61,531.9 L111.83,530.36 L112.05,528.81 L112.27,527.26 L112.5,525.72 L112.74,524.17 L112.99,522.63 L113.24,521.1 L113.51,519.56 L113.8,518.04 L114.09,516.51 L114.4,515 L114.73,513.49 L115.07,511.99 L115.43,510.49 L115.82,509.01 L116.22,507.53 L116.64,506.07 L117.09,504.62 L117.56,503.17 L118.06,501.74 L118.59,500.33 L119.14,498.92 L119.72,497.54 L120.33,496.16 L120.98,494.81 L121.66,493.46 L122.37,492.14 L123.11,490.83 L123.89,489.55 L124.71,488.28 L125.57,487.03 L126.47,485.8 L127.41,484.6 L128.39,483.41 L129.41,482.25 L130.48,481.11 L131.6,480" fill="none" stroke="#ff8000" stroke-width="2.0" stroke-linejoin="round" stroke-linecap="round" />
<path d="M108.2,529.7 L108.19,528.34 L108.18,526.93 L108.19,525.47 L108.21,523.99 L108.25,522.46 L108.32,520.92 L108.4,519.35 L108.51,517.76 L108.65,516.16 L108.82,514.55 L109.02,512.95 L109.26,511.34 L109.53,509.75 L109.84,508.16 L110.19,506.6 L110.59,505.06 L111.04,503.55 L111.53,502.07 L112.08,500.63 L112.68,499.23 L113.33,497.88 L114.05,496.59 L114.83,495.35 L115.66,494.18 L116.57,493.08 L117.54,492.05 L118.58,491.09 L119.69,490.21 L120.85,489.39 L122.06,488.63 L123.32,487.93 L124.62,487.29 L125.96,486.69 L127.33,486.13 L128.72,485.62 L130.14,485.14 L131.57,484.69 L133.01,484.26 L134.46,483.86 L135.92,483.48 L137.37,483.11 L138.83,482.77 L140.3,482.45 L141.77,482.14 L143.24,481.85 L144.71,481.58 L146.19,481.32 L147.67,481.08 L149.16,480.86 L150.64,480.65 L152.13,480.46 L153.63,480.28 L155.12,480.12 L156.62,479.97 L158.12,479.83 L159.62,479.71 L161.13,479.59 L162.64,479.49 L164.15,479.41 L165.66,479.33 L167.17,479.26 L168.68,479.21 L170.2,479.16 L171.72,479.13 L173.24,479.1 L174.76,479.08 L176.28,479.07 L177.8,479.07 L179.32,479.07 L180.85,479.08 L182.37,479.1 L183.9,479.12 L185.42,479.15 L186.95,479.19 L188.48,479.23 L190,479.27 L191.53,479.32 L193.06,479.37 L194.58,479.42 L196.11,479.47 L197.63,479.53 L199.16,479.59 L200.68,479.65 L202.21,479.71 L203.73,479.77 L205.26,479.84 L206.78,479.9 L208.3,479.97 L209.82,480.03 L211.34,480.1 L212.86,480.17 L214.38,480.24 L215.9,480.31 L217.42,480.38 L218.94,480.45 L220.46,480.52 L221.98,480.59 L223.5,480.67 L225.01,480.74 L226.53,480.81 L228.05,480.89 L229.56,480.96 L231.08,481.04 L232.59,481.11 L234.11,481.19 L235.62,481.27 L237.13,481.34 L238.65,481.42 L240.16,481.5 L241.67,481.57 L243.19,481.65 L244.7,481.73 L246.21,481.8 L247.72,481.88 L249.23,481.96 L250.74,482.03 L252.25,482.11 L253.76,482.19 L255.27,482.26 L256.78,482.34 L258.29,482.41 L259.8,482.49 L261.31,482.56 L262.82,482.63 L264.33,482.71 L265.84,482.78 L267.35,482.85 L268.85,482.92 L270.36,482.99 L271.87,483.06 L273.38,483.13 L274.88,483.2 L276.39,483.27 L277.9,483.33 L279.4,483.4 L280.91,483.46 L282.42,483.53 L283.92,483.59 L285.43,483.65 L286.93,483.71 L288.44,483.77 L289.95,483.83 L291.45,483.88 L292.96,483.94 L294.46,483.99 L295.97,484.05 L297.47,484.1 L298.98,484.15 L300.48,484.19 L301.99,484.24 L303.49,484.28 L305,484.33 L306.51,484.37 L308.01,484.41 L309.52,484.45 L311.02,484.48 L312.53,484.52 L314.03,484.55 L315.54,484.58 L317.04,484.61 L318.55,484.63 L320.05,484.66 L321.56,484.68 L323.06,484.7 L324.57,484.72 L326.08,484.73 L327.58,484.74 L329.09,484.75 L330.59,484.76 L332.1,484.77 L333.61,484.77 L335.11,484.77 L336.62,484.77 L338.13,484.77 L339.63,484.76 L341.14,484.75 L342.65,484.74 L344.15,484.73 L345.66,484.71 L347.17,484.69 L348.68,484.66 L350.19,484.64 L351.69,484.61 L353.2,484.58 L354.71,484.54 L356.22,484.5 L357.73,484.46 L359.24,484.42 L360.75,484.37 L362.26,484.32 L363.77,484.27 L365.28,484.21 L366.79,484.15 L368.31,484.08 L369.82,484.02 L371.33,483.95 L372.84,483.87 L374.35,483.79 L375.87,483.71 L377.38,483.63 L378.89,483.54 L380.41,483.44 L381.92,483.35 L383.44,483.25 L384.95,483.14 L386.47,483.03 L387.98,482.92 L389.5,482.81 M389.51,482.79 L389.59,484.65 L389.58,486.42 L389.47,488.13 L389.27,489.77 L388.99,491.34 L388.63,492.84 L388.18,494.27 L387.66,495.64 L387.07,496.95 L386.4,498.19 L385.67,499.37 L384.88,500.5 L384.02,501.57 L383.11,502.58 L382.15,503.53 L381.13,504.43 L380.07,505.29 L378.96,506.09 L377.81,506.84 L376.62,507.55 L375.39,508.21 L374.14,508.83 L372.85,509.4 L371.53,509.94 L370.2,510.44 L368.83,510.9 L367.45,511.32 L366.04,511.71 L364.62,512.07 L363.17,512.4 L361.71,512.7 L360.23,512.98 L358.73,513.23 L357.22,513.46 L355.7,513.66 L354.17,513.85 L352.63,514.02 L351.07,514.17 L349.51,514.31 L347.95,514.43 L346.37,514.55 L344.8,514.65 L343.21,514.75 L341.63,514.84 L340.05,514.93 L338.47,515.02 L336.89,515.1 L335.31,515.19 L333.73,515.28 L332.17,515.37 L330.61,515.47 L329.05,515.58 L327.51,515.7 L325.97,515.83 L324.44,515.96 L322.91,516.1 L321.4,516.25 L319.88,516.4 L318.38,516.56 L316.88,516.73 L315.38,516.9 L313.89,517.07 L312.39,517.25 L310.91,517.43 L309.42,517.61 L307.94,517.8 L306.46,517.98 L304.98,518.17 L303.5,518.35 L302.02,518.54 L300.54,518.73 L299.06,518.91 L297.58,519.1 L296.09,519.28 L294.61,519.46 L293.13,519.64 L291.64,519.82 L290.16,520 L288.67,520.18 L287.19,520.35 L285.7,520.53 L284.21,520.7 L282.73,520.87 L281.24,521.05 L279.75,521.22 L278.26,521.39 L276.77,521.55 L275.28,521.72 L273.79,521.89 L272.3,522.05 L270.81,522.21 L269.31,522.38 L267.82,522.54 L266.33,522.7 L264.83,522.86 L263.34,523.01 L261.84,523.17 L260.35,523.32 L258.85,523.48 L257.36,523.63 L255.86,523.78 L254.36,523.93 L252.86,524.07 L251.37,524.22 L249.87,524.36 L248.37,524.51 L246.87,524.65 L245.37,524.79 L243.87,524.93 L242.37,525.07 L240.87,525.2 L239.37,525.34 L237.87,525.47 L236.37,525.6 L234.86,525.73 L233.36,525.86 L231.86,525.98 L230.36,526.11 L228.85,526.23 L227.35,526.36 L225.84,526.48 L224.34,526.59 L222.84,526.71 L221.33,526.83 L219.83,526.94 L218.32,527.05 L216.81,527.16 L215.31,527.27 L213.8,527.38 L212.3,527.48 L210.79,527.59 L209.28,527.69 L207.78,527.79 L206.27,527.88 L204.76,527.98 L203.25,528.08 L201.75,528.17 L200.24,528.26 L198.73,528.35 L197.22,528.43 L195.71,528.52 L194.2,528.6 L192.7,528.68 L191.19,528.76 L189.68,528.84 L188.17,528.92 L186.66,528.99 L185.15,529.06 L183.64,529.13 L182.13,529.2 L180.62,529.26 L179.11,529.33 L177.6,529.39 L176.09,529.45 L174.58,529.51 L173.07,529.56 L171.56,529.61 L170.05,529.67 L168.54,529.71 L167.03,529.76 L165.52,529.81 L164.01,529.85 L162.5,529.89 L160.99,529.93 L159.48,529.96 L157.97,530 L156.46,530.03 L154.95,530.06 L153.44,530.09 L151.93,530.11 L150.42,530.13 L148.91,530.15 L147.4,530.17 L145.89,530.19 L144.38,530.2 L142.87,530.21 L141.36,530.22 L139.86,530.23 L138.35,530.23 L136.84,530.23 L135.33,530.23 L133.82,530.23 L132.31,530.22 L130.8,530.22 L129.29,530.21 L127.79,530.19 L126.28,530.18 L124.77,530.16 L123.26,530.14 L121.76,530.12 L120.25,530.09 L118.74,530.06 L117.24,530.03 L115.73,530 L114.22,529.96 L112.72,529.93 L111.21,529.89 L109.71,529.84 L108.2,529.8" fill="none" stroke="#ff00ff" stroke-width="2.0" stroke-linejoin="round" stroke-linecap="round" />
<path d="M107.8,519.5 C108.08,517.17 108.37,509.38 109.5,505.5 C110.63,501.62 112.33,498.53 114.6,496.2 C116.87,493.87 118.87,492.48 123.1,491.5 C127.33,490.52 127.18,490.63 140,490.3 C152.82,489.97 181.67,489.5 200,489.5 C218.33,489.5 233.33,489.97 250,490.3 C266.67,490.63 286.67,491.17 300,491.5 C313.33,491.83 316.5,492.42 330,492.3 C343.5,492.18 371.08,491.18 381,490.8 C390.92,490.42 388.08,490.13 389.5,490 M389.5,490 C389.58,490.92 390.28,493.45 390,495.5 C389.72,497.55 389.02,500.45 387.8,502.3 C386.58,504.15 385.25,505.4 382.7,506.6 C380.15,507.8 381.28,508.7 372.5,509.5 C363.72,510.3 342.08,510.77 330,511.4 C317.92,512.03 311.67,512.65 300,513.3 C288.33,513.95 276.67,514.55 260,515.3 C243.33,516.05 220,517.13 200,517.8 C180,518.47 155.37,519.02 140,519.3 C124.63,519.58 113.17,519.47 107.8,519.5" fill="none" stroke="#008000" stroke-width="2.0" stroke-linejoin="round" stroke-linecap="round" />
<path d="M107.8,514 C107.88,513.17 107.6,511.4 108.3,509 C109,506.6 110.25,501.88 112,499.6 C113.75,497.32 114.13,496.1 118.8,495.3 C123.47,494.5 118.13,494.87 140,494.8 C161.87,494.73 218.33,494.72 250,494.9 C281.67,495.08 308.17,495.93 330,495.9 C351.83,495.87 371.08,495.05 381,494.7 C390.92,494.35 388.08,493.95 389.5,493.8 M389.5,493.8 C389.53,494.33 390.4,495.43 389.7,497 C389,498.57 388.17,501.47 385.3,503.2 C382.43,504.93 381.72,506.48 372.5,507.4 C363.28,508.32 348.75,508.08 330,508.7 C311.25,509.32 281.67,510.35 260,511.1 C238.33,511.85 220,512.72 200,513.2 C180,513.68 155.37,513.87 140,514 C124.63,514.13 113.17,514 107.8,514" fill="none" stroke="#0000ff" stroke-width="2.0" stroke-linejoin="round" stroke-linecap="round" />
<path d="M107.8,509.3 C107.92,508.42 107.97,505.47 108.5,504 C109.03,502.53 109.75,501.37 111,500.5 C112.25,499.63 112.83,499.15 116,498.8 C119.17,498.45 107.67,498.43 130,498.4 C152.33,498.37 216.67,498.52 250,498.6 C283.33,498.68 308.17,499.13 330,498.9 C351.83,498.67 371.08,497.62 381,497.2 C390.92,496.78 388.08,496.53 389.5,496.4 M389.5,496.4 C389.47,496.75 390,497.65 389.3,498.5 C388.6,499.35 388.1,500.52 385.3,501.5 C382.5,502.48 381.72,503.63 372.5,504.4 C363.28,505.17 348.75,505.5 330,506.1 C311.25,506.7 291.67,507.5 260,508 C228.33,508.5 165.37,508.88 140,509.1 C114.63,509.32 113.17,509.27 107.8,509.3" fill="none" stroke="#ff0000" stroke-width="2.0" stroke-linejoin="round" stroke-linecap="round" />
<path d="M107.8,506.5 C107.88,506 107.77,504.28 108.3,503.5 C108.83,502.72 109.72,502.22 111,501.8 C112.28,501.38 101.17,501.17 116,501 C130.83,500.83 164.33,500.87 200,500.8 C235.67,500.73 301.25,500.77 330,500.6 C358.75,500.43 363.43,500.08 372.5,499.8 C381.57,499.52 381.65,499.1 384.4,498.9 C387.15,498.7 388.23,498.65 389,498.6 M389,498.6 C388.83,498.92 389.05,499.88 388,500.5 C386.95,501.12 385.28,501.78 382.7,502.3 C380.12,502.82 381.28,503.25 372.5,503.6 C363.72,503.95 348.75,504.07 330,504.4 C311.25,504.73 291.67,505.2 260,505.6 C228.33,506 165.37,506.6 140,506.8 C114.63,507 113.17,506.8 107.8,506.8" fill="none" stroke="#000000" stroke-width="2.0" stroke-linejoin="round" stroke-linecap="round" />
<line x1="94" y1="379.3" x2="124" y2="379.3" stroke="#000000" stroke-width="2.0"/>
<text x="130" y="383.9" font-size="12.5" text-anchor="start" word-spacing="1">5 mv s<tspan dy="-5" font-size="10">-1</tspan></text>
<line x1="194" y1="379.3" x2="224" y2="379.3" stroke="#ff0000" stroke-width="2.0"/>
<text x="230" y="383.9" font-size="12.5" text-anchor="start" word-spacing="1">10 mv s<tspan dy="-5" font-size="10">-1</tspan></text>
<line x1="94" y1="397.4" x2="124" y2="397.4" stroke="#0000ff" stroke-width="2.0"/>
<text x="130" y="402" font-size="12.5" text-anchor="start" word-spacing="1">20 mv s<tspan dy="-5" font-size="10">-1</tspan></text>
<line x1="194" y1="397.4" x2="224" y2="397.4" stroke="#008000" stroke-width="2.0"/>
<text x="230" y="402" font-size="12.5" text-anchor="start" word-spacing="1">30 mv s<tspan dy="-5" font-size="10">-1</tspan></text>
<line x1="218.8" y1="596.8" x2="248.8" y2="596.8" stroke="#ff00ff" stroke-width="2.0"/>
<text x="255" y="601.4" font-size="12.5" text-anchor="start" word-spacing="1">50 mv s<tspan dy="-5" font-size="10">-1</tspan></text>
<line x1="318.2" y1="596.8" x2="348.2" y2="596.8" stroke="#ff8000" stroke-width="2.0"/>
<text x="354.4" y="601.4" font-size="12.5" text-anchor="start" word-spacing="1">100 mv s<tspan dy="-5" font-size="10">-1</tspan></text>
<line x1="218.8" y1="614.9" x2="248.8" y2="614.9" stroke="#8000ff" stroke-width="2.0"/>
<text x="255" y="619.5" font-size="12.5" text-anchor="start" word-spacing="1">200 mv s<tspan dy="-5" font-size="10">-1</tspan></text>
<text x="20.6" y="395.2" font-size="44" text-anchor="start" >d</text>
<line x1="539.76" y1="636.8" x2="539.76" y2="632.6" stroke="#000" stroke-width="1.8"/>
<line x1="618.02" y1="636.8" x2="618.02" y2="632.6" stroke="#000" stroke-width="1.8"/>
<line x1="696.28" y1="636.8" x2="696.28" y2="632.6" stroke="#000" stroke-width="1.8"/>
<line x1="774.54" y1="636.8" x2="774.54" y2="632.6" stroke="#000" stroke-width="1.8"/>
<line x1="852.8" y1="636.8" x2="852.8" y2="632.6" stroke="#000" stroke-width="1.8"/>
<line x1="578.89" y1="636.8" x2="578.89" y2="634.5" stroke="#000" stroke-width="1.8"/>
<line x1="657.15" y1="636.8" x2="657.15" y2="634.5" stroke="#000" stroke-width="1.8"/>
<line x1="735.41" y1="636.8" x2="735.41" y2="634.5" stroke="#000" stroke-width="1.8"/>
<line x1="813.67" y1="636.8" x2="813.67" y2="634.5" stroke="#000" stroke-width="1.8"/>
<text x="539.76" y="656" font-size="17" text-anchor="middle" >0</text>
<text x="618.02" y="656" font-size="17" text-anchor="middle" >200</text>
<text x="696.28" y="656" font-size="17" text-anchor="middle" >400</text>
<text x="774.54" y="656" font-size="17" text-anchor="middle" >600</text>
<text x="852.8" y="656" font-size="17" text-anchor="middle" >800</text>
<line x1="520.2" y1="614.45" x2="524.4" y2="614.45" stroke="#000" stroke-width="1.8"/>
<line x1="520.2" y1="569.75" x2="524.4" y2="569.75" stroke="#000" stroke-width="1.8"/>
<line x1="520.2" y1="525.05" x2="524.4" y2="525.05" stroke="#000" stroke-width="1.8"/>
<line x1="520.2" y1="480.35" x2="524.4" y2="480.35" stroke="#000" stroke-width="1.8"/>
<line x1="520.2" y1="435.65" x2="524.4" y2="435.65" stroke="#000" stroke-width="1.8"/>
<line x1="520.2" y1="390.95" x2="524.4" y2="390.95" stroke="#000" stroke-width="1.8"/>
<line x1="520.2" y1="636.8" x2="522.5" y2="636.8" stroke="#000" stroke-width="1.8"/>
<line x1="520.2" y1="592.1" x2="522.5" y2="592.1" stroke="#000" stroke-width="1.8"/>
<line x1="520.2" y1="547.4" x2="522.5" y2="547.4" stroke="#000" stroke-width="1.8"/>
<line x1="520.2" y1="502.7" x2="522.5" y2="502.7" stroke="#000" stroke-width="1.8"/>
<line x1="520.2" y1="458" x2="522.5" y2="458" stroke="#000" stroke-width="1.8"/>
<line x1="520.2" y1="413.3" x2="522.5" y2="413.3" stroke="#000" stroke-width="1.8"/>
<text x="513.5" y="619.75" font-size="17" text-anchor="end" >-1.0</text>
<text x="513.5" y="575.05" font-size="17" text-anchor="end" >-0.8</text>
<text x="513.5" y="530.35" font-size="17" text-anchor="end" >-0.6</text>
<text x="513.5" y="485.65" font-size="17" text-anchor="end" >-0.4</text>
<text x="513.5" y="440.95" font-size="17" text-anchor="end" >-0.2</text>
<text x="513.5" y="396.25" font-size="17" text-anchor="end" >0.0</text>
<path d="M539.5,614.2 C542.87,608.05 552.03,590.55 559.7,577.3 C567.37,564.05 577.57,547.58 585.5,534.7 C593.43,521.82 600.68,510.92 607.3,500 C613.92,489.08 620.23,477.97 625.2,469.2 C630.17,460.43 633.13,454.33 637.1,447.4 C641.07,440.47 645.03,433.88 649,427.6 C652.97,421.32 656.95,414.5 660.9,409.7 C664.85,404.9 669.07,401.6 672.7,398.8 C676.33,396 679.78,394.22 682.7,392.9 C685.62,391.58 688.95,391.23 690.2,390.9 M690.2,390.9 C690.6,392.38 691.47,395.95 692.6,399.8 C693.73,403.65 694.57,406.55 697,414 C699.43,421.45 702.67,433.75 707.2,444.5 C711.73,455.25 717.42,467.17 724.2,478.5 C730.98,489.83 739.42,501.75 747.9,512.5 C756.38,523.25 764.9,531.68 775.1,543 C785.3,554.32 798.35,568.53 809.1,580.4 C819.85,592.27 834.52,608.57 839.6,614.2" fill="none" stroke="#000000" stroke-width="2.0" stroke-linejoin="round" stroke-linecap="round" />
<path d="M539.5,614.2 L541.36,608.47 L543.18,602.75 L544.97,597.02 L546.71,591.3 L548.43,585.57 L550.12,579.85 L551.78,574.12 L553.41,568.39 L555.02,562.67 L556.61,556.94 L558.18,551.22 L559.74,545.49 L561.28,539.77 L562.81,534.04 L564.33,528.32 L565.84,522.59 L567.36,516.86 L568.86,511.14 L570.37,505.41 L571.89,499.69 L573.4,493.96 L574.93,488.24 L576.46,482.51 L578.01,476.78 L579.57,471.06 L581.15,465.33 L582.75,459.61 L584.37,453.88 L586.01,448.16 L587.68,442.43 L589.38,436.71 L591.11,430.98 L592.88,425.25 L594.68,419.53 L596.52,413.8 L598.39,408.08 L600.32,402.35 L602.28,396.63 L604.3,390.9 L604.92,396.63 L605.6,402.35 L606.37,408.08 L607.21,413.8 L608.11,419.53 L609.09,425.25 L610.14,430.98 L611.25,436.71 L612.42,442.43 L613.66,448.16 L614.97,453.88 L616.33,459.61 L617.75,465.33 L619.23,471.06 L620.76,476.78 L622.35,482.51 L624,488.24 L625.69,493.96 L627.43,499.69 L629.22,505.41 L631.06,511.14 L632.94,516.86 L634.87,522.59 L636.84,528.32 L638.85,534.04 L640.9,539.77 L642.99,545.49 L645.11,551.22 L647.26,556.94 L649.45,562.67 L651.68,568.39 L653.93,574.12 L656.21,579.85 L658.51,585.57 L660.85,591.3 L663.2,597.02 L665.58,602.75 L667.98,608.47 L670.4,614.2" fill="none" stroke="#ff0000" stroke-width="2.0" stroke-linejoin="round" stroke-linecap="round" />
<path d="M539.5,614.2 L552.8,520 L561.7,459.3 L570.6,390.9 L570.72,396.63 L570.89,402.35 L571.13,408.08 L571.41,413.8 L571.75,419.53 L572.14,425.25 L572.58,430.98 L573.07,436.71 L573.6,442.43 L574.17,448.16 L574.79,453.88 L575.45,459.61 L576.14,465.33 L576.87,471.06 L577.63,476.78 L578.43,482.51 L579.25,488.24 L580.11,493.96 L580.99,499.69 L581.89,505.41 L582.82,511.14 L583.77,516.86 L584.74,522.59 L585.73,528.32 L586.74,534.04 L587.75,539.77 L588.78,545.49 L589.82,551.22 L590.87,556.94 L591.92,562.67 L592.98,568.39 L594.04,574.12 L595.11,579.85 L596.17,585.57 L597.23,591.3 L598.28,597.02 L599.33,602.75 L600.37,608.47 L601.4,614.2" fill="none" stroke="#0000ff" stroke-width="2.0" stroke-linejoin="round" stroke-linecap="round" />
<path d="M539.5,614.2 L547.8,520 L559.1,390.9 L568.7,520 L579.6,614.2" fill="none" stroke="#008000" stroke-width="2.0" stroke-linejoin="round" stroke-linecap="round" />
<path d="M539.5,614.2 L545.5,520 L550.8,390.9 L555.8,520 L562.7,614.2" fill="none" stroke="#ff00ff" stroke-width="2.0" stroke-linejoin="round" stroke-linecap="round" />
<path d="M539.5,614.2 L541.5,520 L544.5,390.9 L545.9,520 L550.2,614.2" fill="none" stroke="#ff8000" stroke-width="2.0" stroke-linejoin="round" stroke-linecap="round" />
<line x1="766.2" y1="391.4" x2="792.7" y2="391.4" stroke="#000000" stroke-width="2.0"/>
<text x="795.5" y="396" font-size="12.5" text-anchor="start" word-spacing="1.3">1 A g<tspan dy="-5" font-size="10">-1</tspan></text>
<line x1="766.2" y1="408.8" x2="792.7" y2="408.8" stroke="#ff0000" stroke-width="2.0"/>
<text x="795.5" y="413.4" font-size="12.5" text-anchor="start" word-spacing="1.3">2 A g<tspan dy="-5" font-size="10">-1</tspan></text>
<line x1="766.2" y1="426.2" x2="792.7" y2="426.2" stroke="#0000ff" stroke-width="2.0"/>
<text x="795.5" y="430.8" font-size="12.5" text-anchor="start" word-spacing="1.3">4 A g<tspan dy="-5" font-size="10">-1</tspan></text>
<line x1="766.2" y1="443.6" x2="792.7" y2="443.6" stroke="#008000" stroke-width="2.0"/>
<text x="795.5" y="448.2" font-size="12.5" text-anchor="start" word-spacing="1.3">6 A g<tspan dy="-5" font-size="10">-1</tspan></text>
<line x1="766.2" y1="461" x2="792.7" y2="461" stroke="#ff00ff" stroke-width="2.0"/>
<text x="795.5" y="465.6" font-size="12.5" text-anchor="start" word-spacing="1.3">10 A g<tspan dy="-5" font-size="10">-1</tspan></text>
<line x1="766.2" y1="478.4" x2="792.7" y2="478.4" stroke="#ff8000" stroke-width="2.0"/>
<text x="795.5" y="483" font-size="12.5" text-anchor="start" word-spacing="1.3">20 A g<tspan dy="-5" font-size="10">-1</tspan></text>
<text x="455" y="391.6" font-size="44" text-anchor="start" >e</text>
<line x1="958.3" y1="636" x2="958.3" y2="631.8" stroke="#000" stroke-width="1.8"/>
<line x1="1019.7" y1="636" x2="1019.7" y2="631.8" stroke="#000" stroke-width="1.8"/>
<line x1="1081.1" y1="636" x2="1081.1" y2="631.8" stroke="#000" stroke-width="1.8"/>
<line x1="1142.5" y1="636" x2="1142.5" y2="631.8" stroke="#000" stroke-width="1.8"/>
<line x1="1203.9" y1="636" x2="1203.9" y2="631.8" stroke="#000" stroke-width="1.8"/>
<line x1="1265.3" y1="636" x2="1265.3" y2="631.8" stroke="#000" stroke-width="1.8"/>
<line x1="989" y1="636" x2="989" y2="633.7" stroke="#000" stroke-width="1.8"/>
<line x1="1050.4" y1="636" x2="1050.4" y2="633.7" stroke="#000" stroke-width="1.8"/>
<line x1="1111.8" y1="636" x2="1111.8" y2="633.7" stroke="#000" stroke-width="1.8"/>
<line x1="1173.2" y1="636" x2="1173.2" y2="633.7" stroke="#000" stroke-width="1.8"/>
<line x1="1234.6" y1="636" x2="1234.6" y2="633.7" stroke="#000" stroke-width="1.8"/>
<text x="958.3" y="655" font-size="17" text-anchor="middle" >0</text>
<text x="1019.7" y="655" font-size="17" text-anchor="middle" >2</text>
<text x="1081.1" y="655" font-size="17" text-anchor="middle" >4</text>
<text x="1142.5" y="655" font-size="17" text-anchor="middle" >6</text>
<text x="1203.9" y="655" font-size="17" text-anchor="middle" >8</text>
<text x="1265.3" y="655" font-size="17" text-anchor="middle" >10</text>
<line x1="958.3" y1="636" x2="962.5" y2="636" stroke="#000" stroke-width="1.8"/>
<line x1="958.3" y1="586.37" x2="962.5" y2="586.37" stroke="#000" stroke-width="1.8"/>
<line x1="958.3" y1="536.74" x2="962.5" y2="536.74" stroke="#000" stroke-width="1.8"/>
<line x1="958.3" y1="487.11" x2="962.5" y2="487.11" stroke="#000" stroke-width="1.8"/>
<line x1="958.3" y1="437.48" x2="962.5" y2="437.48" stroke="#000" stroke-width="1.8"/>
<line x1="958.3" y1="387.85" x2="962.5" y2="387.85" stroke="#000" stroke-width="1.8"/>
<line x1="958.3" y1="611.19" x2="960.6" y2="611.19" stroke="#000" stroke-width="1.8"/>
<line x1="958.3" y1="561.56" x2="960.6" y2="561.56" stroke="#000" stroke-width="1.8"/>
<line x1="958.3" y1="511.93" x2="960.6" y2="511.93" stroke="#000" stroke-width="1.8"/>
<line x1="958.3" y1="462.3" x2="960.6" y2="462.3" stroke="#000" stroke-width="1.8"/>
<line x1="958.3" y1="412.67" x2="960.6" y2="412.67" stroke="#000" stroke-width="1.8"/>
<text x="952" y="641.3" font-size="17" text-anchor="end" >0</text>
<text x="952" y="591.67" font-size="17" text-anchor="end" >2</text>
<text x="952" y="542.04" font-size="17" text-anchor="end" >4</text>
<text x="952" y="492.41" font-size="17" text-anchor="end" >6</text>
<text x="952" y="442.78" font-size="17" text-anchor="end" >8</text>
<text x="952" y="393.15" font-size="17" text-anchor="end" >10</text>
<defs>
<radialGradient id="sk" cx="0.5" cy="0.5" r="0.5" fx="0.4" fy="0.36"><stop offset="0" stop-color="#fff"/><stop offset="0.22" stop-color="#000000"/><stop offset="1" stop-color="#000000"/></radialGradient>
<radialGradient id="sr" cx="0.5" cy="0.5" r="0.5" fx="0.4" fy="0.36"><stop offset="0" stop-color="#fff"/><stop offset="0.22" stop-color="#ff0000"/><stop offset="1" stop-color="#ff0000"/></radialGradient>
<radialGradient id="sb" cx="0.5" cy="0.5" r="0.5" fx="0.4" fy="0.36"><stop offset="0" stop-color="#fff"/><stop offset="0.22" stop-color="#0000ff"/><stop offset="1" stop-color="#0000ff"/></radialGradient>
<radialGradient id="sg" cx="0.5" cy="0.5" r="0.5" fx="0.4" fy="0.36"><stop offset="0" stop-color="#fff"/><stop offset="0.22" stop-color="#008000"/><stop offset="1" stop-color="#008000"/></radialGradient>
</defs>
<clipPath id="fclip"><rect x="959" y="369" width="336" height="266"/></clipPath>
<g clip-path="url(#fclip)">
<path d="M1022.9,371.8 L1009.7,413 L1000.3,448 L993.7,477.8 L988.8,502.3 L985.4,522.7 L983.3,539.7 L982.4,554.2 L982.6,566 L982.9,575.9 L982.9,585 L982.3,593.4 L980.6,601.4 L979.5,607.6 L977.8,612.7 L976.3,615 L973.3,624.8 L970.3,634.5 L969.8,636.5" fill="none" stroke="#000000" stroke-width="1.4" stroke-linejoin="round" stroke-linecap="round" />
<path d="M1015.5,360 L1003.8,404.8 L995.7,441.5 L989.1,472.2 L985.4,497.9 L982,519.5 L980.5,537.1 L979.5,551.4 L978,563.5 L977.8,572.5 L978.3,582.7 L977.8,592.9 L976.6,603.1 L975.5,609.9 L974.7,615 L971.8,624.8 L968.9,634.5 L968.4,636.5" fill="none" stroke="#ff0000" stroke-width="1.4" stroke-linejoin="round" stroke-linecap="round" />
<path d="M997.8,377.3 L989.3,419.4 L983.8,454 L981.1,482.3 L979.9,506.5 L978.2,525.7 L978.6,542.2 L979.2,555.9 L979.9,567.4 L980,578.1 L978.9,587.8 L977.8,596.3 L976.1,605.4 L972.7,615 L970,624.8 L967.3,634.5 L966.8,636.5" fill="none" stroke="#0000ff" stroke-width="1.4" stroke-linejoin="round" stroke-linecap="round" />
<path d="M1004,359 L995.7,395.2 L987.8,434.5 L982.4,466.9 L978.6,494 L975.7,516.4 L973.9,535.1 L972.9,550.4 L972.9,563.2 L973.2,573.4 L973.8,582.7 L973.8,590.6 L973.2,598.5 L972.1,605.4 L970.4,611.6 L968.7,616.7 L967,621.2 L965.3,625.2 L963.6,629.2 L962.2,632.4 L963.4,633.2 L960.4,633.4 L958.6,633.8" fill="none" stroke="#008000" stroke-width="1.4" stroke-linejoin="round" stroke-linecap="round" />
<circle cx="1022.9" cy="371.8" r="3.0" fill="url(#sk)"/>
<circle cx="1009.7" cy="413" r="3.0" fill="url(#sk)"/>
<circle cx="1000.3" cy="448" r="3.0" fill="url(#sk)"/>
<circle cx="993.7" cy="477.8" r="3.0" fill="url(#sk)"/>
<circle cx="988.8" cy="502.3" r="3.0" fill="url(#sk)"/>
<circle cx="985.4" cy="522.7" r="3.0" fill="url(#sk)"/>
<circle cx="983.3" cy="539.7" r="3.0" fill="url(#sk)"/>
<circle cx="982.4" cy="554.2" r="3.0" fill="url(#sk)"/>
<circle cx="982.6" cy="566" r="3.0" fill="url(#sk)"/>
<circle cx="982.9" cy="575.9" r="3.0" fill="url(#sk)"/>
<circle cx="982.9" cy="585" r="3.0" fill="url(#sk)"/>
<circle cx="982.3" cy="593.4" r="3.0" fill="url(#sk)"/>
<circle cx="980.6" cy="601.4" r="3.0" fill="url(#sk)"/>
<circle cx="979.5" cy="607.6" r="3.0" fill="url(#sk)"/>
<circle cx="977.8" cy="612.7" r="3.0" fill="url(#sk)"/>
<circle cx="1003.8" cy="404.8" r="3.0" fill="url(#sr)"/>
<circle cx="995.7" cy="441.5" r="3.0" fill="url(#sr)"/>
<circle cx="989.1" cy="472.2" r="3.0" fill="url(#sr)"/>
<circle cx="985.4" cy="497.9" r="3.0" fill="url(#sr)"/>
<circle cx="982" cy="519.5" r="3.0" fill="url(#sr)"/>
<circle cx="980.5" cy="537.1" r="3.0" fill="url(#sr)"/>
<circle cx="979.5" cy="551.4" r="3.0" fill="url(#sr)"/>
<circle cx="978" cy="563.5" r="3.0" fill="url(#sr)"/>
<circle cx="977.8" cy="572.5" r="3.0" fill="url(#sr)"/>
<circle cx="978.3" cy="582.7" r="3.0" fill="url(#sr)"/>
<circle cx="977.8" cy="592.9" r="3.0" fill="url(#sr)"/>
<circle cx="976.6" cy="603.1" r="3.0" fill="url(#sr)"/>
<circle cx="975.5" cy="609.9" r="3.0" fill="url(#sr)"/>
<circle cx="997.8" cy="377.3" r="3.0" fill="url(#sb)"/>
<circle cx="989.3" cy="419.4" r="3.0" fill="url(#sb)"/>
<circle cx="983.8" cy="454" r="3.0" fill="url(#sb)"/>
<circle cx="981.1" cy="482.3" r="3.0" fill="url(#sb)"/>
<circle cx="979.9" cy="506.5" r="3.0" fill="url(#sb)"/>
<circle cx="978.2" cy="525.7" r="3.0" fill="url(#sb)"/>
<circle cx="978.6" cy="542.2" r="3.0" fill="url(#sb)"/>
<circle cx="979.2" cy="555.9" r="3.0" fill="url(#sb)"/>
<circle cx="979.9" cy="567.4" r="3.0" fill="url(#sb)"/>
<circle cx="980" cy="578.1" r="3.0" fill="url(#sb)"/>
<circle cx="978.9" cy="587.8" r="3.0" fill="url(#sb)"/>
<circle cx="977.8" cy="596.3" r="3.0" fill="url(#sb)"/>
<circle cx="976.1" cy="605.4" r="3.0" fill="url(#sb)"/>
<circle cx="995.7" cy="395.2" r="3.0" fill="url(#sg)"/>
<circle cx="987.8" cy="434.5" r="3.0" fill="url(#sg)"/>
<circle cx="982.4" cy="466.9" r="3.0" fill="url(#sg)"/>
<circle cx="978.6" cy="494" r="3.0" fill="url(#sg)"/>
<circle cx="975.7" cy="516.4" r="3.0" fill="url(#sg)"/>
<circle cx="973.9" cy="535.1" r="3.0" fill="url(#sg)"/>
<circle cx="972.9" cy="550.4" r="3.0" fill="url(#sg)"/>
<circle cx="972.9" cy="563.2" r="3.0" fill="url(#sg)"/>
<circle cx="973.2" cy="573.4" r="3.0" fill="url(#sg)"/>
<circle cx="973.8" cy="582.7" r="3.0" fill="url(#sg)"/>
<circle cx="973.8" cy="590.6" r="3.0" fill="url(#sg)"/>
<circle cx="973.2" cy="598.5" r="3.0" fill="url(#sg)"/>
<circle cx="972.1" cy="605.4" r="3.0" fill="url(#sg)"/>
<circle cx="970.4" cy="611.6" r="3.0" fill="url(#sg)"/>
<circle cx="968.7" cy="616.7" r="3.0" fill="url(#sg)"/>
<circle cx="967" cy="621.2" r="3.0" fill="url(#sg)"/>
<circle cx="965.3" cy="625.2" r="3.0" fill="url(#sg)"/>
<circle cx="963.6" cy="629.2" r="3.0" fill="url(#sg)"/>
<circle cx="962.2" cy="632.4" r="3.0" fill="url(#sg)"/>
<circle cx="963.4" cy="633.2" r="3.0" fill="url(#sg)"/>
<circle cx="960.4" cy="633.4" r="3.0" fill="url(#sg)"/>
<circle cx="958.6" cy="633.8" r="3.0" fill="url(#sg)"/>
</g>
<line x1="1163.1" y1="382.8" x2="1192.1" y2="382.8" stroke="#000000" stroke-width="1.6"/>
<circle cx="1177.4" cy="382.8" r="3.0" fill="url(#sk)"/>
<text x="1196.1" y="388.3" font-size="14.1" text-anchor="start" >NPAC-K</text>
<line x1="1163.1" y1="400.3" x2="1192.1" y2="400.3" stroke="#ff0000" stroke-width="1.6"/>
<circle cx="1177.4" cy="400.3" r="3.0" fill="url(#sr)"/>
<text x="1196.1" y="405.8" font-size="14.1" text-anchor="start" >NPAC-Zn</text>
<line x1="1163.1" y1="417.8" x2="1192.1" y2="417.8" stroke="#0000ff" stroke-width="1.6"/>
<circle cx="1177.4" cy="417.8" r="3.0" fill="url(#sb)"/>
<text x="1196.1" y="423.3" font-size="14.1" text-anchor="start" >NPAC-Zn/K</text>
<line x1="1163.1" y1="435.3" x2="1192.1" y2="435.3" stroke="#008000" stroke-width="1.6"/>
<circle cx="1177.4" cy="435.3" r="3.0" fill="url(#sg)"/>
<text x="1196.1" y="440.8" font-size="14.1" text-anchor="start" >BNPAC-Zn/K</text>
<text x="902.3" y="401" font-size="44" text-anchor="start" >f</text>
<rect x="1075" y="455.9" width="199.3" height="160.8" fill="#fff" stroke="#000" stroke-width="1.8"/>
<line x1="1087.88" y1="616.7" x2="1087.88" y2="613.9" stroke="#000" stroke-width="1.3"/>
<line x1="1129.18" y1="616.7" x2="1129.18" y2="613.9" stroke="#000" stroke-width="1.3"/>
<line x1="1170.48" y1="616.7" x2="1170.48" y2="613.9" stroke="#000" stroke-width="1.3"/>
<line x1="1211.78" y1="616.7" x2="1211.78" y2="613.9" stroke="#000" stroke-width="1.3"/>
<line x1="1253.07" y1="616.7" x2="1253.07" y2="613.9" stroke="#000" stroke-width="1.3"/>
<line x1="1108.53" y1="616.7" x2="1108.53" y2="615.1" stroke="#000" stroke-width="1.3"/>
<line x1="1149.83" y1="616.7" x2="1149.83" y2="615.1" stroke="#000" stroke-width="1.3"/>
<line x1="1191.13" y1="616.7" x2="1191.13" y2="615.1" stroke="#000" stroke-width="1.3"/>
<line x1="1232.42" y1="616.7" x2="1232.42" y2="615.1" stroke="#000" stroke-width="1.3"/>
<text x="1087.88" y="628.8" font-size="10.5" text-anchor="middle" >0.0</text>
<text x="1129.18" y="628.8" font-size="10.5" text-anchor="middle" >0.1</text>
<text x="1170.48" y="628.8" font-size="10.5" text-anchor="middle" >0.2</text>
<text x="1211.78" y="628.8" font-size="10.5" text-anchor="middle" >0.3</text>
<text x="1253.07" y="628.8" font-size="10.5" text-anchor="middle" >0.4</text>
<line x1="1075" y1="604.4" x2="1077.8" y2="604.4" stroke="#000" stroke-width="1.3"/>
<line x1="1075" y1="558.7" x2="1077.8" y2="558.7" stroke="#000" stroke-width="1.3"/>
<line x1="1075" y1="512.99" x2="1077.8" y2="512.99" stroke="#000" stroke-width="1.3"/>
<line x1="1075" y1="467.28" x2="1077.8" y2="467.28" stroke="#000" stroke-width="1.3"/>
<line x1="1075" y1="581.55" x2="1076.6" y2="581.55" stroke="#000" stroke-width="1.3"/>
<line x1="1075" y1="535.84" x2="1076.6" y2="535.84" stroke="#000" stroke-width="1.3"/>
<line x1="1075" y1="490.14" x2="1076.6" y2="490.14" stroke="#000" stroke-width="1.3"/>
<text x="1071" y="608.1" font-size="10.5" text-anchor="end" >0.0</text>
<text x="1071" y="562.4" font-size="10.5" text-anchor="end" >0.1</text>
<text x="1071" y="516.69" font-size="10.5" text-anchor="end" >0.2</text>
<text x="1071" y="470.98" font-size="10.5" text-anchor="end" >0.3</text>
<path d="M1087.9,604.4 L1090.4,591.5 L1093.9,586.6 L1096.8,582.1 L1100.3,577.5 L1104.3,572.9 L1108.9,569.2 L1114.5,565.3 L1119.6,561.3 L1127.6,558 L1135.5,555.4 L1143.4,553.7 L1151.2,552.4 L1158.3,552.4 L1164.7,552.7 L1171.2,553.5 L1177.2,554.3 L1183.1,555.2 L1188.2,556 L1194.5,557.7 L1199.6,559.4 L1204.7,562.3 L1210.3,565 L1215.4,566.7 L1218.8,566.2 L1222.2,565 L1225.1,562.8 L1227.9,560 L1230.2,556.9 L1232.8,552.6 L1235.3,546.7 L1237.9,539.4 L1240.9,531.1 L1244.3,520.7 L1247.7,507.6 L1252,490.9 L1256.7,470.2" fill="none" stroke="#000000" stroke-width="0.8" stroke-linejoin="round" stroke-linecap="round" />
<circle cx="1087.9" cy="604.4" r="2.0" fill="url(#sk)"/>
<circle cx="1090.4" cy="591.5" r="2.0" fill="url(#sk)"/>
<circle cx="1093.9" cy="586.6" r="2.0" fill="url(#sk)"/>
<circle cx="1096.8" cy="582.1" r="2.0" fill="url(#sk)"/>
<circle cx="1100.3" cy="577.5" r="2.0" fill="url(#sk)"/>
<circle cx="1104.3" cy="572.9" r="2.0" fill="url(#sk)"/>
<circle cx="1108.9" cy="569.2" r="2.0" fill="url(#sk)"/>
<circle cx="1114.5" cy="565.3" r="2.0" fill="url(#sk)"/>
<circle cx="1119.6" cy="561.3" r="2.0" fill="url(#sk)"/>
<circle cx="1127.6" cy="558" r="2.0" fill="url(#sk)"/>
<circle cx="1135.5" cy="555.4" r="2.0" fill="url(#sk)"/>
<circle cx="1143.4" cy="553.7" r="2.0" fill="url(#sk)"/>
<circle cx="1151.2" cy="552.4" r="2.0" fill="url(#sk)"/>
<circle cx="1158.3" cy="552.4" r="2.0" fill="url(#sk)"/>
<circle cx="1164.7" cy="552.7" r="2.0" fill="url(#sk)"/>
<circle cx="1171.2" cy="553.5" r="2.0" fill="url(#sk)"/>
<circle cx="1177.2" cy="554.3" r="2.0" fill="url(#sk)"/>
<circle cx="1183.1" cy="555.2" r="2.0" fill="url(#sk)"/>
<circle cx="1188.2" cy="556" r="2.0" fill="url(#sk)"/>
<circle cx="1194.5" cy="557.7" r="2.0" fill="url(#sk)"/>
<circle cx="1199.6" cy="559.4" r="2.0" fill="url(#sk)"/>
<circle cx="1204.7" cy="562.3" r="2.0" fill="url(#sk)"/>
<circle cx="1210.3" cy="565" r="2.0" fill="url(#sk)"/>
<circle cx="1215.4" cy="566.7" r="2.0" fill="url(#sk)"/>
<circle cx="1218.8" cy="566.2" r="2.0" fill="url(#sk)"/>
<circle cx="1222.2" cy="565" r="2.0" fill="url(#sk)"/>
<circle cx="1225.1" cy="562.8" r="2.0" fill="url(#sk)"/>
<circle cx="1227.9" cy="560" r="2.0" fill="url(#sk)"/>
<circle cx="1230.2" cy="556.9" r="2.0" fill="url(#sk)"/>
<circle cx="1232.8" cy="552.6" r="2.0" fill="url(#sk)"/>
<circle cx="1235.3" cy="546.7" r="2.0" fill="url(#sk)"/>
<circle cx="1237.9" cy="539.4" r="2.0" fill="url(#sk)"/>
<circle cx="1240.9" cy="531.1" r="2.0" fill="url(#sk)"/>
<circle cx="1244.3" cy="520.7" r="2.0" fill="url(#sk)"/>
<circle cx="1247.7" cy="507.6" r="2.0" fill="url(#sk)"/>
<circle cx="1252" cy="490.9" r="2.0" fill="url(#sk)"/>
<circle cx="1256.7" cy="470.2" r="2.0" fill="url(#sk)"/>
<path d="M1087.9,604.4 L1090,592.5 L1092.9,587.6 L1096.8,583.8 L1100.8,580.1 L1104.6,576.9 L1108.9,574.2 L1114.2,570.2 L1119.6,567 L1125.4,564.3 L1130,562.6 L1135.3,560.8 L1140.5,559.3 L1145.4,557.8 L1150.9,557 L1156.3,555.7 L1162.1,556.1 L1168,555.7 L1173.8,555.2 L1179.7,556 L1187.4,556.9 L1191.6,558.1 L1195.9,557.2 L1200.1,555.5 L1203.5,553.1 L1206.6,549.7 L1210,545.3 L1213.2,539.9 L1216.3,532.8 L1219.7,523.7 L1223.1,512.7 L1227.3,498.8 L1231.3,481.6" fill="none" stroke="#ff0000" stroke-width="0.8" stroke-linejoin="round" stroke-linecap="round" />
<circle cx="1087.9" cy="604.4" r="2.0" fill="url(#sr)"/>
<circle cx="1090" cy="592.5" r="2.0" fill="url(#sr)"/>
<circle cx="1092.9" cy="587.6" r="2.0" fill="url(#sr)"/>
<circle cx="1096.8" cy="583.8" r="2.0" fill="url(#sr)"/>
<circle cx="1100.8" cy="580.1" r="2.0" fill="url(#sr)"/>
<circle cx="1104.6" cy="576.9" r="2.0" fill="url(#sr)"/>
<circle cx="1108.9" cy="574.2" r="2.0" fill="url(#sr)"/>
<circle cx="1114.2" cy="570.2" r="2.0" fill="url(#sr)"/>
<circle cx="1119.6" cy="567" r="2.0" fill="url(#sr)"/>
<circle cx="1125.4" cy="564.3" r="2.0" fill="url(#sr)"/>
<circle cx="1130" cy="562.6" r="2.0" fill="url(#sr)"/>
<circle cx="1135.3" cy="560.8" r="2.0" fill="url(#sr)"/>
<circle cx="1140.5" cy="559.3" r="2.0" fill="url(#sr)"/>
<circle cx="1145.4" cy="557.8" r="2.0" fill="url(#sr)"/>
<circle cx="1150.9" cy="557" r="2.0" fill="url(#sr)"/>
<circle cx="1156.3" cy="555.7" r="2.0" fill="url(#sr)"/>
<circle cx="1162.1" cy="556.1" r="2.0" fill="url(#sr)"/>
<circle cx="1168" cy="555.7" r="2.0" fill="url(#sr)"/>
<circle cx="1173.8" cy="555.2" r="2.0" fill="url(#sr)"/>
<circle cx="1179.7" cy="556" r="2.0" fill="url(#sr)"/>
<circle cx="1187.4" cy="556.9" r="2.0" fill="url(#sr)"/>
<circle cx="1191.6" cy="558.1" r="2.0" fill="url(#sr)"/>
<circle cx="1195.9" cy="557.2" r="2.0" fill="url(#sr)"/>
<circle cx="1200.1" cy="555.5" r="2.0" fill="url(#sr)"/>
<circle cx="1203.5" cy="553.1" r="2.0" fill="url(#sr)"/>
<circle cx="1206.6" cy="549.7" r="2.0" fill="url(#sr)"/>
<circle cx="1210" cy="545.3" r="2.0" fill="url(#sr)"/>
<circle cx="1213.2" cy="539.9" r="2.0" fill="url(#sr)"/>
<circle cx="1216.3" cy="532.8" r="2.0" fill="url(#sr)"/>
<circle cx="1219.7" cy="523.7" r="2.0" fill="url(#sr)"/>
<circle cx="1223.1" cy="512.7" r="2.0" fill="url(#sr)"/>
<circle cx="1227.3" cy="498.8" r="2.0" fill="url(#sr)"/>
<circle cx="1231.3" cy="481.6" r="2.0" fill="url(#sr)"/>
<path d="M1087.9,604.4 L1088.5,597.5 L1090.4,593.5 L1093.3,590 L1095.9,587.5 L1098.8,584.6 L1101.8,582.4 L1104.8,580.1 L1108.5,577.5 L1113.5,573.9 L1119,571.2 L1124.1,568.7 L1129.1,567 L1133,566 L1137.7,564.6 L1141.9,563.8 L1146.2,563.5 L1150.9,563.3 L1155.1,564 L1159.3,564.5 L1163.6,565.7 L1167.8,567.4 L1172.1,569.6 L1175.5,569.3 L1178.9,567.1 L1182,562.8 L1184.8,558.6 L1187.7,553.5 L1190.8,547.5 L1194.2,539.9 L1197.9,531.4 L1201.3,520.9 L1205.2,509.3 L1209.5,494.5 L1214.6,476.5" fill="none" stroke="#0000ff" stroke-width="0.8" stroke-linejoin="round" stroke-linecap="round" />
<circle cx="1087.9" cy="604.4" r="2.0" fill="url(#sb)"/>
<circle cx="1088.5" cy="597.5" r="2.0" fill="url(#sb)"/>
<circle cx="1090.4" cy="593.5" r="2.0" fill="url(#sb)"/>
<circle cx="1093.3" cy="590" r="2.0" fill="url(#sb)"/>
<circle cx="1095.9" cy="587.5" r="2.0" fill="url(#sb)"/>
<circle cx="1098.8" cy="584.6" r="2.0" fill="url(#sb)"/>
<circle cx="1101.8" cy="582.4" r="2.0" fill="url(#sb)"/>
<circle cx="1104.8" cy="580.1" r="2.0" fill="url(#sb)"/>
<circle cx="1108.5" cy="577.5" r="2.0" fill="url(#sb)"/>
<circle cx="1113.5" cy="573.9" r="2.0" fill="url(#sb)"/>
<circle cx="1119" cy="571.2" r="2.0" fill="url(#sb)"/>
<circle cx="1124.1" cy="568.7" r="2.0" fill="url(#sb)"/>
<circle cx="1129.1" cy="567" r="2.0" fill="url(#sb)"/>
<circle cx="1133" cy="566" r="2.0" fill="url(#sb)"/>
<circle cx="1137.7" cy="564.6" r="2.0" fill="url(#sb)"/>
<circle cx="1141.9" cy="563.8" r="2.0" fill="url(#sb)"/>
<circle cx="1146.2" cy="563.5" r="2.0" fill="url(#sb)"/>
<circle cx="1150.9" cy="563.3" r="2.0" fill="url(#sb)"/>
<circle cx="1155.1" cy="564" r="2.0" fill="url(#sb)"/>
<circle cx="1159.3" cy="564.5" r="2.0" fill="url(#sb)"/>
<circle cx="1163.6" cy="565.7" r="2.0" fill="url(#sb)"/>
<circle cx="1167.8" cy="567.4" r="2.0" fill="url(#sb)"/>
<circle cx="1172.1" cy="569.6" r="2.0" fill="url(#sb)"/>
<circle cx="1175.5" cy="569.3" r="2.0" fill="url(#sb)"/>
<circle cx="1178.9" cy="567.1" r="2.0" fill="url(#sb)"/>
<circle cx="1182" cy="562.8" r="2.0" fill="url(#sb)"/>
<circle cx="1184.8" cy="558.6" r="2.0" fill="url(#sb)"/>
<circle cx="1187.7" cy="553.5" r="2.0" fill="url(#sb)"/>
<circle cx="1190.8" cy="547.5" r="2.0" fill="url(#sb)"/>
<circle cx="1194.2" cy="539.9" r="2.0" fill="url(#sb)"/>
<circle cx="1197.9" cy="531.4" r="2.0" fill="url(#sb)"/>
<circle cx="1201.3" cy="520.9" r="2.0" fill="url(#sb)"/>
<circle cx="1205.2" cy="509.3" r="2.0" fill="url(#sb)"/>
<circle cx="1209.5" cy="494.5" r="2.0" fill="url(#sb)"/>
<circle cx="1214.6" cy="476.5" r="2.0" fill="url(#sb)"/>
<path d="M1086.9,602.9 L1088.9,599.5 L1090.9,596.5 L1093.9,593.5 L1096.4,590.5 L1098.8,588 L1101.8,586 L1104.3,584 L1106.8,582.6 L1110.2,580.6 L1114.2,578.9 L1117.5,577.2 L1120.6,576.2 L1124.6,575.7 L1128.6,575.5 L1132.5,575.5 L1136.5,576.2 L1140.5,577.2 L1144.4,578 L1148.4,579.1 L1151.4,577.7 L1153.4,576.4 L1156,573 L1158.5,569.1 L1160.5,564.5 L1163.3,559.4 L1166.1,553.8 L1169,547 L1171.8,538.5 L1175.2,528.3 L1178.9,516.6 L1183.1,502 L1187.4,484.1" fill="none" stroke="#008000" stroke-width="0.8" stroke-linejoin="round" stroke-linecap="round" />
<circle cx="1086.9" cy="602.9" r="2.0" fill="url(#sg)"/>
<circle cx="1088.9" cy="599.5" r="2.0" fill="url(#sg)"/>
<circle cx="1090.9" cy="596.5" r="2.0" fill="url(#sg)"/>
<circle cx="1093.9" cy="593.5" r="2.0" fill="url(#sg)"/>
<circle cx="1096.4" cy="590.5" r="2.0" fill="url(#sg)"/>
<circle cx="1098.8" cy="588" r="2.0" fill="url(#sg)"/>
<circle cx="1101.8" cy="586" r="2.0" fill="url(#sg)"/>
<circle cx="1104.3" cy="584" r="2.0" fill="url(#sg)"/>
<circle cx="1106.8" cy="582.6" r="2.0" fill="url(#sg)"/>
<circle cx="1110.2" cy="580.6" r="2.0" fill="url(#sg)"/>
<circle cx="1114.2" cy="578.9" r="2.0" fill="url(#sg)"/>
<circle cx="1117.5" cy="577.2" r="2.0" fill="url(#sg)"/>
<circle cx="1120.6" cy="576.2" r="2.0" fill="url(#sg)"/>
<circle cx="1124.6" cy="575.7" r="2.0" fill="url(#sg)"/>
<circle cx="1128.6" cy="575.5" r="2.0" fill="url(#sg)"/>
<circle cx="1132.5" cy="575.5" r="2.0" fill="url(#sg)"/>
<circle cx="1136.5" cy="576.2" r="2.0" fill="url(#sg)"/>
<circle cx="1140.5" cy="577.2" r="2.0" fill="url(#sg)"/>
<circle cx="1144.4" cy="578" r="2.0" fill="url(#sg)"/>
<circle cx="1148.4" cy="579.1" r="2.0" fill="url(#sg)"/>
<circle cx="1151.4" cy="577.7" r="2.0" fill="url(#sg)"/>
<circle cx="1153.4" cy="576.4" r="2.0" fill="url(#sg)"/>
<circle cx="1156" cy="573" r="2.0" fill="url(#sg)"/>
<circle cx="1158.5" cy="569.1" r="2.0" fill="url(#sg)"/>
<circle cx="1160.5" cy="564.5" r="2.0" fill="url(#sg)"/>
<circle cx="1163.3" cy="559.4" r="2.0" fill="url(#sg)"/>
<circle cx="1166.1" cy="553.8" r="2.0" fill="url(#sg)"/>
<circle cx="1169" cy="547" r="2.0" fill="url(#sg)"/>
<circle cx="1171.8" cy="538.5" r="2.0" fill="url(#sg)"/>
<circle cx="1175.2" cy="528.3" r="2.0" fill="url(#sg)"/>
<circle cx="1178.9" cy="516.6" r="2.0" fill="url(#sg)"/>
<circle cx="1183.1" cy="502" r="2.0" fill="url(#sg)"/>
<circle cx="1187.4" cy="484.1" r="2.0" fill="url(#sg)"/>
<text x="250.4" y="338" font-size="20" text-anchor="middle" ><tspan font-style="italic">E</tspan> / V <tspan font-style="italic">vs.</tspan>Ag/AgCl</text>
<text x="0" y="0" font-size="20" text-anchor="middle" transform="translate(46.3,146.2) rotate(-90)">Current density / A g<tspan dy="-8" font-size="13">-1</tspan></text>
<text x="686.4" y="336.5" font-size="20" text-anchor="middle" >Time/s</text>
<text x="0" y="0" font-size="19.8" text-anchor="middle" transform="translate(469.5,145.9) rotate(-90)"><tspan font-style="italic">E</tspan> / V <tspan font-style="italic">vs.</tspan>Ag/AgCl</text>
<text x="1125.6" y="339.9" font-size="17.8" text-anchor="middle" >Discharge Current / A g<tspan dy="-7" font-size="11.5">-1</tspan></text>
<text x="0" y="0" font-size="17.8" text-anchor="middle" transform="translate(909.3,153.4) rotate(-90)">Specific Capacitance / F g<tspan dy="-7" font-size="11.5">-1</tspan></text>
<text x="249" y="687.4" font-size="20" text-anchor="middle" ><tspan font-style="italic">E</tspan> / V <tspan font-style="italic">vs.</tspan>Ag/AgCl</text>
<text x="0" y="0" font-size="20" text-anchor="middle" transform="translate(32.8,495.1) rotate(-90)">Current density / A g<tspan dy="-8" font-size="13">-1</tspan></text>
<text x="686.4" y="686.8" font-size="20" text-anchor="middle" >Time/s</text>
<text x="0" y="0" font-size="19.8" text-anchor="middle" transform="translate(469.5,495.6) rotate(-90)"><tspan font-style="italic">E</tspan> / V <tspan font-style="italic">vs.</tspan>Ag/AgCl</text>
<text x="1127.2" y="686.5" font-size="20" text-anchor="middle" >Re(Z)/ohm</text>
<text x="0" y="0" font-size="20" text-anchor="middle" transform="translate(917.9,496.7) rotate(-90)">-Im(Z)/ohm</text>
<rect x="84.4" y="20.7" width="332.5" height="267.4" fill="none" stroke="#000" stroke-width="2.0"/>
<rect x="519.8" y="18.8" width="333" height="268" fill="none" stroke="#000" stroke-width="2.0"/>
<rect x="957" y="19" width="338.3" height="267.9" fill="none" stroke="#000" stroke-width="2.0"/>
<rect x="80.2" y="369.7" width="337.4" height="267.5" fill="none" stroke="#000" stroke-width="2.0"/>
<rect x="520.2" y="368.6" width="332.6" height="268.2" fill="none" stroke="#000" stroke-width="2.0"/>
<rect x="958.3" y="368" width="337.7" height="268" fill="none" stroke="#000" stroke-width="2.0"/>
</svg></body></html>
